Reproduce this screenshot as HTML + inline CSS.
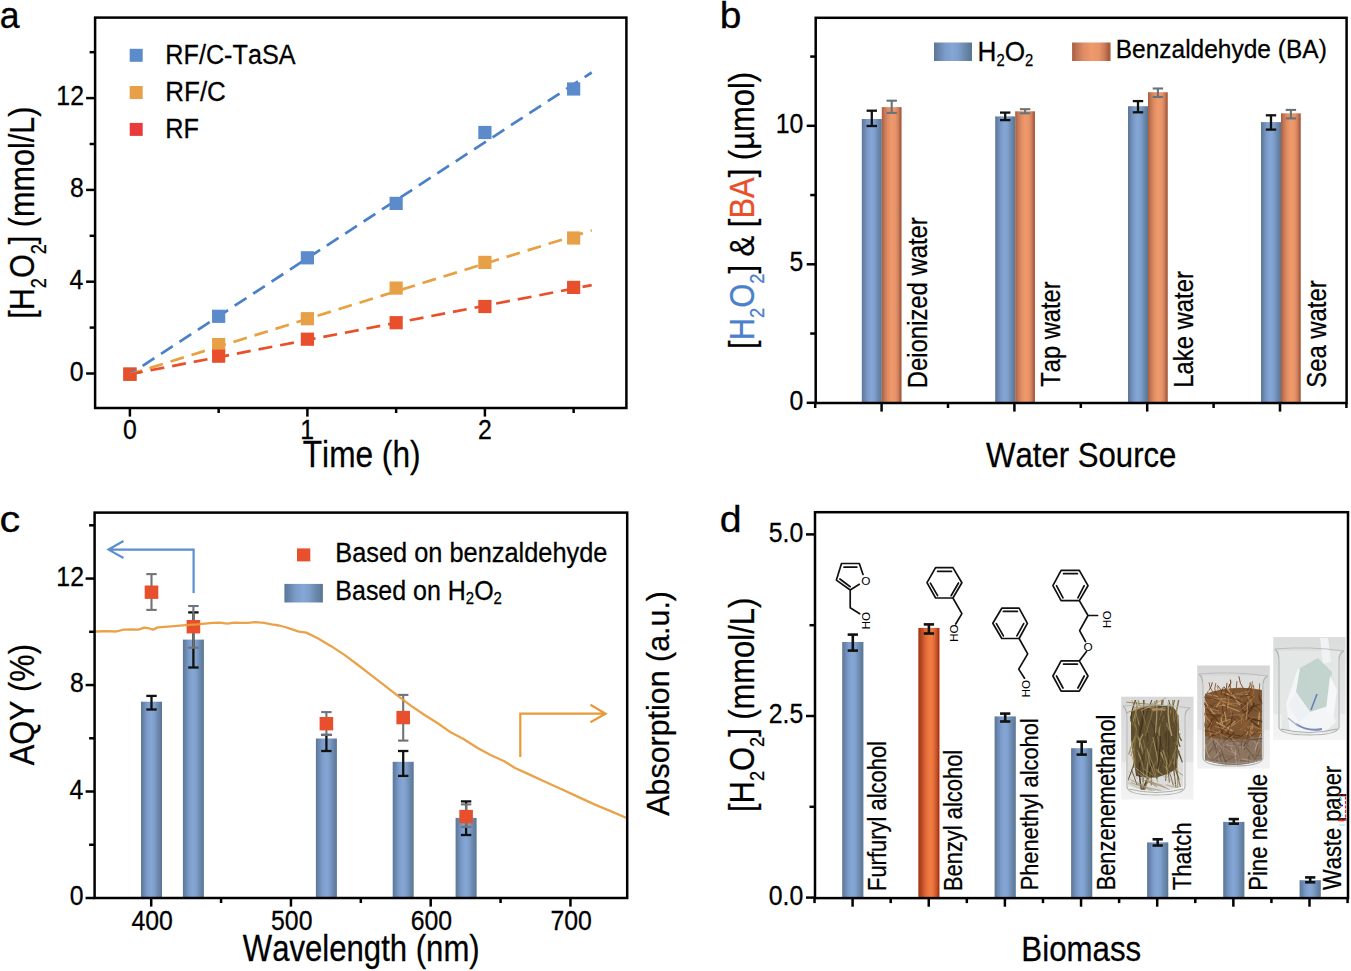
<!DOCTYPE html><html><head><meta charset="utf-8"><style>html,body{margin:0;padding:0;background:#fff;overflow:hidden}svg{display:block}text{font-kerning:none;font-family:"Liberation Sans",sans-serif}</style></head><body>
<svg width="1351" height="971" viewBox="0 0 1351 971" font-family="'Liberation Sans', sans-serif">
<rect width="1351" height="971" fill="#fff"/>
<defs>
<linearGradient id="gb" x1="0" x2="1" y1="0" y2="0">
<stop offset="0" stop-color="#5c7696"/><stop offset="0.15" stop-color="#6b88b0"/><stop offset="0.3" stop-color="#7c9ccb"/><stop offset="0.48" stop-color="#85a7d5"/>
<stop offset="0.63" stop-color="#7f9fcc"/><stop offset="0.78" stop-color="#6f8cb4"/><stop offset="0.9" stop-color="#62809f"/><stop offset="1" stop-color="#5a7594"/></linearGradient>
<linearGradient id="go" x1="0" x2="1" y1="0" y2="0">
<stop offset="0" stop-color="#a65e3e"/><stop offset="0.12" stop-color="#c07454"/><stop offset="0.3" stop-color="#e08c64"/><stop offset="0.5" stop-color="#ee9a6c"/>
<stop offset="0.7" stop-color="#e89468"/><stop offset="0.85" stop-color="#c87c5a"/><stop offset="0.95" stop-color="#a85a3a"/><stop offset="1" stop-color="#b06446"/></linearGradient>
<linearGradient id="gd" x1="0" x2="1" y1="0" y2="0">
<stop offset="0" stop-color="#b04820"/><stop offset="0.05" stop-color="#a83818"/><stop offset="0.2" stop-color="#c05028"/><stop offset="0.35" stop-color="#e06a38"/>
<stop offset="0.5" stop-color="#ee7a42"/><stop offset="0.62" stop-color="#f07c42"/><stop offset="0.75" stop-color="#e06a36"/><stop offset="0.88" stop-color="#c05028"/>
<stop offset="0.96" stop-color="#a83010"/><stop offset="1" stop-color="#b04020"/></linearGradient>
</defs>
<g stroke-width="2.7" stroke-dasharray="14 8" fill="none">
<line x1="129.90" y1="374.2" x2="591.7" y2="72.5" stroke="#4a80c8" stroke-dashoffset="6.8"/>
<line x1="129.90" y1="374.2" x2="591.7" y2="230.4" stroke="#e8a040" stroke-dashoffset="1.5"/>
<line x1="129.90" y1="374.2" x2="591.7" y2="285.1" stroke="#e8502a" stroke-dashoffset="1.0"/>
</g>
<rect x="123.30" y="367.60" width="13.20" height="13.20" fill="#5b8bcb"/>
<rect x="212.05" y="309.70" width="13.20" height="13.20" fill="#5b8bcb"/>
<rect x="300.80" y="251.20" width="13.20" height="13.20" fill="#5b8bcb"/>
<rect x="389.55" y="196.80" width="13.20" height="13.20" fill="#5b8bcb"/>
<rect x="478.30" y="125.90" width="13.20" height="13.20" fill="#5b8bcb"/>
<rect x="567.05" y="82.40" width="13.20" height="13.20" fill="#5b8bcb"/>
<rect x="123.30" y="367.60" width="13.20" height="13.20" fill="#e8a048"/>
<rect x="212.05" y="338.00" width="13.20" height="13.20" fill="#e8a048"/>
<rect x="300.80" y="312.10" width="13.20" height="13.20" fill="#e8a048"/>
<rect x="389.55" y="281.50" width="13.20" height="13.20" fill="#e8a048"/>
<rect x="478.30" y="255.80" width="13.20" height="13.20" fill="#e8a048"/>
<rect x="567.05" y="231.40" width="13.20" height="13.20" fill="#e8a048"/>
<rect x="123.30" y="367.60" width="13.20" height="13.20" fill="#e8502d"/>
<rect x="212.05" y="349.60" width="13.20" height="13.20" fill="#e8502d"/>
<rect x="300.80" y="332.60" width="13.20" height="13.20" fill="#e8502d"/>
<rect x="389.55" y="316.10" width="13.20" height="13.20" fill="#e8502d"/>
<rect x="478.30" y="299.90" width="13.20" height="13.20" fill="#e8502d"/>
<rect x="567.05" y="280.80" width="13.20" height="13.20" fill="#e8502d"/>
<line x1="129.9" y1="374.2" x2="135.93" y2="370.26" stroke="#4a80c8" stroke-width="2.5"/>
<line x1="129.9" y1="374.2" x2="141.36" y2="370.63" stroke="#e8a040" stroke-width="2.5"/>
<line x1="129.9" y1="374.2" x2="142.17" y2="371.83" stroke="#e8502a" stroke-width="2.5"/>
<rect x="95.1" y="17.6" width="531.3" height="390.4" fill="none" stroke="#000" stroke-width="2.5"/>
<line x1="86.10" y1="373.50" x2="95.10" y2="373.50" stroke="#000" stroke-width="2.5" />
<text transform="translate(69.86,380.50) scale(0.9200,1)" fill="#000" stroke="#000" stroke-width="0.28"><tspan font-size="27.00" y="0.00">0</tspan></text>
<line x1="89.60" y1="327.60" x2="95.10" y2="327.60" stroke="#000" stroke-width="2.5" />
<line x1="86.10" y1="281.70" x2="95.10" y2="281.70" stroke="#000" stroke-width="2.5" />
<text transform="translate(69.61,288.70) scale(0.9200,1)" fill="#000" stroke="#000" stroke-width="0.28"><tspan font-size="27.00" y="0.00">4</tspan></text>
<line x1="89.60" y1="235.80" x2="95.10" y2="235.80" stroke="#000" stroke-width="2.5" />
<line x1="86.10" y1="189.90" x2="95.10" y2="189.90" stroke="#000" stroke-width="2.5" />
<text transform="translate(69.96,196.90) scale(0.9200,1)" fill="#000" stroke="#000" stroke-width="0.28"><tspan font-size="27.00" y="0.00">8</tspan></text>
<line x1="89.60" y1="144.00" x2="95.10" y2="144.00" stroke="#000" stroke-width="2.5" />
<line x1="86.10" y1="98.10" x2="95.10" y2="98.10" stroke="#000" stroke-width="2.5" />
<text transform="translate(56.32,105.10) scale(0.9200,1)" fill="#000" stroke="#000" stroke-width="0.28"><tspan font-size="27.00" y="0.00">12</tspan></text>
<line x1="89.60" y1="52.20" x2="95.10" y2="52.20" stroke="#000" stroke-width="2.5" />
<line x1="129.90" y1="408.00" x2="129.90" y2="416.60" stroke="#000" stroke-width="2.5" />
<text transform="translate(122.99,439.10) scale(0.9200,1)" fill="#000" stroke="#000" stroke-width="0.28"><tspan font-size="27.00" y="0.00">0</tspan></text>
<line x1="218.65" y1="408.00" x2="218.65" y2="413.00" stroke="#000" stroke-width="2.5" />
<line x1="307.40" y1="408.00" x2="307.40" y2="416.60" stroke="#000" stroke-width="2.5" />
<text transform="translate(300.15,439.10) scale(0.9200,1)" fill="#000" stroke="#000" stroke-width="0.28"><tspan font-size="27.00" y="0.00">1</tspan></text>
<line x1="396.15" y1="408.00" x2="396.15" y2="413.00" stroke="#000" stroke-width="2.5" />
<line x1="484.90" y1="408.00" x2="484.90" y2="416.60" stroke="#000" stroke-width="2.5" />
<text transform="translate(477.99,439.10) scale(0.9200,1)" fill="#000" stroke="#000" stroke-width="0.28"><tspan font-size="27.00" y="0.00">2</tspan></text>
<line x1="573.65" y1="408.00" x2="573.65" y2="413.00" stroke="#000" stroke-width="2.5" />
<text transform="translate(302.79,467.10) scale(0.8741,1)" fill="#000" stroke="#000" stroke-width="0.28"><tspan font-size="36.20" y="0.00">Time (h)</tspan></text>
<text transform="translate(34.00,318.78) rotate(-90) scale(0.8552,1)" fill="#000" stroke="#000" stroke-width="0.28"><tspan font-size="35.80" y="0.00">[H</tspan><tspan font-size="21.20" y="12.20">2</tspan><tspan font-size="35.80" y="0.00">O</tspan><tspan font-size="21.20" y="12.20">2</tspan><tspan font-size="35.80" y="0.00">] (mmol/L)</tspan></text>
<rect x="129.70" y="48.80" width="13.00" height="13.00" fill="#5b8bcb"/>
<text transform="translate(165.33,63.60) scale(0.9334,1)" fill="#000" stroke="#000" stroke-width="0.28"><tspan font-size="27.00" y="0.00">RF/C-TaSA</tspan></text>
<rect x="129.70" y="86.00" width="13.00" height="13.00" fill="#e8a048"/>
<text transform="translate(165.27,101.00) scale(0.9624,1)" fill="#000" stroke="#000" stroke-width="0.28"><tspan font-size="27.00" y="0.00">RF/C</tspan></text>
<rect x="129.70" y="122.90" width="13.00" height="13.00" fill="#e83c3c"/>
<text transform="translate(165.33,138.30) scale(0.9359,1)" fill="#000" stroke="#000" stroke-width="0.28"><tspan font-size="27.00" y="0.00">RF</tspan></text>
<text transform="translate(-0.31,28.44) scale(0.9567,1)" fill="#000" stroke="#000" stroke-width="0.28"><tspan font-size="37.24" y="0.00">a</tspan></text>
<rect x="861.80" y="119.00" width="20.00" height="284.00" fill="url(#gb)"/>
<rect x="881.80" y="107.10" width="19.80" height="295.90" fill="url(#go)"/>
<line x1="871.80" y1="110.70" x2="871.80" y2="126.00" stroke="#111" stroke-width="2.3" />
<line x1="866.60" y1="110.70" x2="877.00" y2="110.70" stroke="#111" stroke-width="2.3" />
<line x1="866.60" y1="126.00" x2="877.00" y2="126.00" stroke="#111" stroke-width="2.3" />
<line x1="891.70" y1="100.70" x2="891.70" y2="112.90" stroke="#6a7278" stroke-width="2.1" />
<line x1="886.50" y1="100.70" x2="896.90" y2="100.70" stroke="#6a7278" stroke-width="2.1" />
<line x1="886.50" y1="112.90" x2="896.90" y2="112.90" stroke="#6a7278" stroke-width="2.1" />
<rect x="995.20" y="116.40" width="20.00" height="286.60" fill="url(#gb)"/>
<rect x="1015.20" y="111.30" width="19.80" height="291.70" fill="url(#go)"/>
<line x1="1005.20" y1="112.60" x2="1005.20" y2="120.10" stroke="#111" stroke-width="2.3" />
<line x1="1000.00" y1="112.60" x2="1010.40" y2="112.60" stroke="#111" stroke-width="2.3" />
<line x1="1000.00" y1="120.10" x2="1010.40" y2="120.10" stroke="#111" stroke-width="2.3" />
<line x1="1025.10" y1="109.20" x2="1025.10" y2="113.30" stroke="#6a7278" stroke-width="2.1" />
<line x1="1019.90" y1="109.20" x2="1030.30" y2="109.20" stroke="#6a7278" stroke-width="2.1" />
<line x1="1019.90" y1="113.30" x2="1030.30" y2="113.30" stroke="#6a7278" stroke-width="2.1" />
<rect x="1128.00" y="106.20" width="20.00" height="296.80" fill="url(#gb)"/>
<rect x="1148.00" y="92.20" width="19.80" height="310.80" fill="url(#go)"/>
<line x1="1138.00" y1="101.10" x2="1138.00" y2="112.30" stroke="#111" stroke-width="2.3" />
<line x1="1132.80" y1="101.10" x2="1143.20" y2="101.10" stroke="#111" stroke-width="2.3" />
<line x1="1132.80" y1="112.30" x2="1143.20" y2="112.30" stroke="#111" stroke-width="2.3" />
<line x1="1157.90" y1="88.50" x2="1157.90" y2="97.00" stroke="#6a7278" stroke-width="2.1" />
<line x1="1152.70" y1="88.50" x2="1163.10" y2="88.50" stroke="#6a7278" stroke-width="2.1" />
<line x1="1152.70" y1="97.00" x2="1163.10" y2="97.00" stroke="#6a7278" stroke-width="2.1" />
<rect x="1261.00" y="122.10" width="20.00" height="280.90" fill="url(#gb)"/>
<rect x="1281.00" y="113.30" width="19.80" height="289.70" fill="url(#go)"/>
<line x1="1271.00" y1="115.30" x2="1271.00" y2="129.60" stroke="#111" stroke-width="2.3" />
<line x1="1265.80" y1="115.30" x2="1276.20" y2="115.30" stroke="#111" stroke-width="2.3" />
<line x1="1265.80" y1="129.60" x2="1276.20" y2="129.60" stroke="#111" stroke-width="2.3" />
<line x1="1290.90" y1="109.90" x2="1290.90" y2="118.40" stroke="#6a7278" stroke-width="2.1" />
<line x1="1285.70" y1="109.90" x2="1296.10" y2="109.90" stroke="#6a7278" stroke-width="2.1" />
<line x1="1285.70" y1="118.40" x2="1296.10" y2="118.40" stroke="#6a7278" stroke-width="2.1" />
<rect x="815.7" y="17.8" width="530.8999999999999" height="385.2" fill="none" stroke="#000" stroke-width="2.5"/>
<line x1="806.70" y1="402.80" x2="815.70" y2="402.80" stroke="#000" stroke-width="2.5" />
<text transform="translate(789.46,409.60) scale(0.9200,1)" fill="#000" stroke="#000" stroke-width="0.28"><tspan font-size="27.00" y="0.00">0</tspan></text>
<line x1="810.20" y1="333.55" x2="815.70" y2="333.55" stroke="#000" stroke-width="2.5" />
<line x1="806.70" y1="264.30" x2="815.70" y2="264.30" stroke="#000" stroke-width="2.5" />
<text transform="translate(789.53,271.10) scale(0.9200,1)" fill="#000" stroke="#000" stroke-width="0.28"><tspan font-size="27.00" y="0.00">5</tspan></text>
<line x1="810.20" y1="195.05" x2="815.70" y2="195.05" stroke="#000" stroke-width="2.5" />
<line x1="806.70" y1="125.80" x2="815.70" y2="125.80" stroke="#000" stroke-width="2.5" />
<text transform="translate(775.64,132.60) scale(0.9200,1)" fill="#000" stroke="#000" stroke-width="0.28"><tspan font-size="27.00" y="0.00">10</tspan></text>
<line x1="810.20" y1="56.55" x2="815.70" y2="56.55" stroke="#000" stroke-width="2.5" />
<line x1="815.20" y1="403.00" x2="815.20" y2="408.00" stroke="#000" stroke-width="2.5" />
<line x1="881.60" y1="403.00" x2="881.60" y2="411.60" stroke="#000" stroke-width="2.5" />
<line x1="948.00" y1="403.00" x2="948.00" y2="408.00" stroke="#000" stroke-width="2.5" />
<line x1="1014.40" y1="403.00" x2="1014.40" y2="411.60" stroke="#000" stroke-width="2.5" />
<line x1="1080.80" y1="403.00" x2="1080.80" y2="408.00" stroke="#000" stroke-width="2.5" />
<line x1="1147.20" y1="403.00" x2="1147.20" y2="411.60" stroke="#000" stroke-width="2.5" />
<line x1="1213.60" y1="403.00" x2="1213.60" y2="408.00" stroke="#000" stroke-width="2.5" />
<line x1="1280.00" y1="403.00" x2="1280.00" y2="411.60" stroke="#000" stroke-width="2.5" />
<line x1="1346.40" y1="403.00" x2="1346.40" y2="408.00" stroke="#000" stroke-width="2.5" />
<text transform="translate(927.40,388.16) rotate(-90) scale(0.8429,1)" fill="#000" stroke="#000" stroke-width="0.28"><tspan font-size="28.30" y="0.00">Deionized water</tspan></text>
<text transform="translate(1059.80,386.73) rotate(-90) scale(0.8614,1)" fill="#000" stroke="#000" stroke-width="0.28"><tspan font-size="27.50" y="0.00">Tap water</tspan></text>
<text transform="translate(1193.40,387.65) rotate(-90) scale(0.8509,1)" fill="#000" stroke="#000" stroke-width="0.28"><tspan font-size="28.00" y="0.00">Lake water</tspan></text>
<text transform="translate(1325.60,387.78) rotate(-90) scale(0.8526,1)" fill="#000" stroke="#000" stroke-width="0.28"><tspan font-size="28.00" y="0.00">Sea water</tspan></text>
<text transform="translate(986.06,467.00) scale(0.8701,1)" fill="#000" stroke="#000" stroke-width="0.28"><tspan font-size="35.80" y="0.00">Water Source</tspan></text>
<rect x="934.00" y="42.50" width="38.00" height="18.50" fill="url(#gb)"/>
<rect x="1072.10" y="42.50" width="38.50" height="18.50" fill="url(#go)"/>
<text transform="translate(977.55,61.40) scale(0.9479,1)" fill="#000" stroke="#000" stroke-width="0.28"><tspan font-size="27.60" y="0.00">H</tspan><tspan font-size="15.60" y="4.20">2</tspan><tspan font-size="27.60" y="0.00">O</tspan><tspan font-size="15.60" y="4.20">2</tspan></text>
<text transform="translate(1115.69,58.40) scale(0.9465,1)" fill="#000" stroke="#000" stroke-width="0.28"><tspan font-size="25.90" y="0.00">Benzaldehyde (BA)</tspan></text>
<text transform="translate(753.80,348.91) rotate(-90) scale(0.8692,1)"><tspan font-size="35.60" y="0.00" fill="#000" stroke="#000" stroke-width="0.28">[</tspan><tspan font-size="35.60" y="0.00" fill="#4a80cc" stroke="#4a80cc" stroke-width="0.28">H</tspan><tspan font-size="21.00" y="10.20" fill="#4a80cc" stroke="#4a80cc" stroke-width="0.28">2</tspan><tspan font-size="35.60" y="0.00" fill="#4a80cc" stroke="#4a80cc" stroke-width="0.28">O</tspan><tspan font-size="21.00" y="10.20" fill="#4a80cc" stroke="#4a80cc" stroke-width="0.28">2</tspan><tspan font-size="35.60" y="0.00" fill="#000" stroke="#000" stroke-width="0.28">] &amp; [</tspan><tspan font-size="35.60" y="0.00" fill="#e8502a" stroke="#e8502a" stroke-width="0.28">BA</tspan><tspan font-size="35.60" y="0.00" fill="#000" stroke="#000" stroke-width="0.28">] (µmol)</tspan></text>
<text transform="translate(719.69,28.44) scale(1.0506,1)" fill="#000" stroke="#000" stroke-width="0.28"><tspan font-size="37.04" y="0.00">b</tspan></text>
<rect x="141.00" y="701.70" width="21.00" height="196.30" fill="url(#gb)"/>
<rect x="182.90" y="639.60" width="21.00" height="258.40" fill="url(#gb)"/>
<rect x="315.90" y="738.50" width="21.00" height="159.50" fill="url(#gb)"/>
<rect x="392.70" y="761.80" width="21.00" height="136.20" fill="url(#gb)"/>
<rect x="455.60" y="817.90" width="21.00" height="80.10" fill="url(#gb)"/>
<line x1="151.50" y1="695.90" x2="151.50" y2="709.50" stroke="#111" stroke-width="2.3" />
<line x1="146.30" y1="695.90" x2="156.70" y2="695.90" stroke="#111" stroke-width="2.3" />
<line x1="146.30" y1="709.50" x2="156.70" y2="709.50" stroke="#111" stroke-width="2.3" />
<line x1="193.40" y1="612.40" x2="193.40" y2="667.50" stroke="#111" stroke-width="2.3" />
<line x1="188.20" y1="612.40" x2="198.60" y2="612.40" stroke="#111" stroke-width="2.3" />
<line x1="188.20" y1="667.50" x2="198.60" y2="667.50" stroke="#111" stroke-width="2.3" />
<line x1="326.40" y1="734.90" x2="326.40" y2="751.00" stroke="#111" stroke-width="2.3" />
<line x1="321.20" y1="734.90" x2="331.60" y2="734.90" stroke="#111" stroke-width="2.3" />
<line x1="321.20" y1="751.00" x2="331.60" y2="751.00" stroke="#111" stroke-width="2.3" />
<line x1="403.20" y1="751.00" x2="403.20" y2="775.90" stroke="#111" stroke-width="2.3" />
<line x1="398.00" y1="751.00" x2="408.40" y2="751.00" stroke="#111" stroke-width="2.3" />
<line x1="398.00" y1="775.90" x2="408.40" y2="775.90" stroke="#111" stroke-width="2.3" />
<line x1="466.10" y1="801.40" x2="466.10" y2="835.00" stroke="#111" stroke-width="2.3" />
<line x1="460.90" y1="801.40" x2="471.30" y2="801.40" stroke="#111" stroke-width="2.3" />
<line x1="460.90" y1="835.00" x2="471.30" y2="835.00" stroke="#111" stroke-width="2.3" />
<line x1="151.50" y1="574.10" x2="151.50" y2="609.90" stroke="#6e7478" stroke-width="2.1" />
<line x1="146.30" y1="574.10" x2="156.70" y2="574.10" stroke="#6e7478" stroke-width="2.1" />
<line x1="146.30" y1="609.90" x2="156.70" y2="609.90" stroke="#6e7478" stroke-width="2.1" />
<line x1="193.40" y1="606.00" x2="193.40" y2="647.70" stroke="#6e7478" stroke-width="2.1" />
<line x1="188.20" y1="606.00" x2="198.60" y2="606.00" stroke="#6e7478" stroke-width="2.1" />
<line x1="188.20" y1="647.70" x2="198.60" y2="647.70" stroke="#6e7478" stroke-width="2.1" />
<line x1="326.40" y1="712.10" x2="326.40" y2="734.90" stroke="#6e7478" stroke-width="2.1" />
<line x1="321.20" y1="712.10" x2="331.60" y2="712.10" stroke="#6e7478" stroke-width="2.1" />
<line x1="321.20" y1="734.90" x2="331.60" y2="734.90" stroke="#6e7478" stroke-width="2.1" />
<line x1="403.20" y1="694.90" x2="403.20" y2="740.60" stroke="#6e7478" stroke-width="2.1" />
<line x1="398.00" y1="694.90" x2="408.40" y2="694.90" stroke="#6e7478" stroke-width="2.1" />
<line x1="398.00" y1="740.60" x2="408.40" y2="740.60" stroke="#6e7478" stroke-width="2.1" />
<line x1="466.10" y1="804.40" x2="466.10" y2="826.90" stroke="#6e7478" stroke-width="2.1" />
<line x1="460.90" y1="804.40" x2="471.30" y2="804.40" stroke="#6e7478" stroke-width="2.1" />
<line x1="460.90" y1="826.90" x2="471.30" y2="826.90" stroke="#6e7478" stroke-width="2.1" />
<rect x="144.70" y="585.50" width="13.60" height="13.40" fill="#e8502d"/>
<rect x="186.60" y="620.00" width="13.60" height="13.40" fill="#e8502d"/>
<rect x="319.60" y="717.00" width="13.60" height="13.40" fill="#e8502d"/>
<rect x="396.40" y="710.90" width="13.60" height="13.40" fill="#e8502d"/>
<rect x="459.30" y="809.90" width="13.60" height="13.40" fill="#e8502d"/>
<path d="M94.6,631.5 L97.0,631.5 L105.8,631.1 L116.2,631.5 L123.6,629.6 L132.5,629.3 L138.4,629.6 L144.3,627.7 L149.0,628.4 L153.2,629.6 L157.7,627.4 L168.0,626.6 L176.9,625.9 L185.8,625.2 L197.6,624.4 L205.0,623.7 L212.4,622.9 L219.8,622.6 L227.2,623.7 L234.6,622.6 L242.0,622.9 L248.0,622.9 L255.4,622.2 L264.2,622.9 L271.6,624.4 L279.1,625.5 L285.0,627.0 L290.0,628.6 L298.8,631.6 L306.4,632.6 L317.7,638.2 L331.5,646.4 L344.1,654.6 L356.7,664.0 L370.5,674.7 L384.4,685.4 L398.2,696.1 L410.8,705.6 L424.6,715.0 L438.5,723.8 L451.1,732.6 L463.0,738.7 L477.6,748.0 L491.0,755.3 L504.3,761.3 L515.0,768.0 L529.6,774.6 L545.6,782.0 L561.6,789.3 L577.6,796.6 L594.9,804.6 L609.5,810.6 L624.9,817.3 L626.2,817.8" fill="none" stroke="#e89a3a" stroke-width="2.3" stroke-linejoin="round" opacity="0.92"/>
<path d="M193.6,593 L193.6,549.6 L108.5,549.6 M123.5,541 L108.5,549.6 L123.5,558" fill="none" stroke="#5b8fd0" stroke-width="2.2"/>
<path d="M520.3,757 L520.3,713.7 L605.6,713.7 M590.4,704.7 L605.6,713.7 L590.4,722.2" fill="none" stroke="#e89a3a" stroke-width="2.2"/>
<rect x="94.6" y="512.6" width="532.6" height="385.4" fill="none" stroke="#000" stroke-width="2.5"/>
<line x1="85.60" y1="898.00" x2="94.60" y2="898.00" stroke="#000" stroke-width="2.5" />
<text transform="translate(69.86,905.00) scale(0.9200,1)" fill="#000" stroke="#000" stroke-width="0.28"><tspan font-size="27.00" y="0.00">0</tspan></text>
<line x1="89.10" y1="844.76" x2="94.60" y2="844.76" stroke="#000" stroke-width="2.5" />
<line x1="85.60" y1="791.52" x2="94.60" y2="791.52" stroke="#000" stroke-width="2.5" />
<text transform="translate(69.61,798.52) scale(0.9200,1)" fill="#000" stroke="#000" stroke-width="0.28"><tspan font-size="27.00" y="0.00">4</tspan></text>
<line x1="89.10" y1="738.28" x2="94.60" y2="738.28" stroke="#000" stroke-width="2.5" />
<line x1="85.60" y1="685.04" x2="94.60" y2="685.04" stroke="#000" stroke-width="2.5" />
<text transform="translate(69.96,692.04) scale(0.9200,1)" fill="#000" stroke="#000" stroke-width="0.28"><tspan font-size="27.00" y="0.00">8</tspan></text>
<line x1="89.10" y1="631.80" x2="94.60" y2="631.80" stroke="#000" stroke-width="2.5" />
<line x1="85.60" y1="578.56" x2="94.60" y2="578.56" stroke="#000" stroke-width="2.5" />
<text transform="translate(56.32,585.56) scale(0.9200,1)" fill="#000" stroke="#000" stroke-width="0.28"><tspan font-size="27.00" y="0.00">12</tspan></text>
<line x1="89.10" y1="525.32" x2="94.60" y2="525.32" stroke="#000" stroke-width="2.5" />
<line x1="151.20" y1="898.00" x2="151.20" y2="906.60" stroke="#000" stroke-width="2.5" />
<text transform="translate(131.48,930.20) scale(0.9200,1)" fill="#000" stroke="#000" stroke-width="0.28"><tspan font-size="27.00" y="0.00">400</tspan></text>
<line x1="221.07" y1="898.00" x2="221.07" y2="903.00" stroke="#000" stroke-width="2.5" />
<line x1="290.95" y1="898.00" x2="290.95" y2="906.60" stroke="#000" stroke-width="2.5" />
<text transform="translate(271.02,930.20) scale(0.9200,1)" fill="#000" stroke="#000" stroke-width="0.28"><tspan font-size="27.00" y="0.00">500</tspan></text>
<line x1="360.82" y1="898.00" x2="360.82" y2="903.00" stroke="#000" stroke-width="2.5" />
<line x1="430.70" y1="898.00" x2="430.70" y2="906.60" stroke="#000" stroke-width="2.5" />
<text transform="translate(410.63,930.20) scale(0.9200,1)" fill="#000" stroke="#000" stroke-width="0.28"><tspan font-size="27.00" y="0.00">600</tspan></text>
<line x1="500.57" y1="898.00" x2="500.57" y2="903.00" stroke="#000" stroke-width="2.5" />
<line x1="570.45" y1="898.00" x2="570.45" y2="906.60" stroke="#000" stroke-width="2.5" />
<text transform="translate(550.38,930.20) scale(0.9200,1)" fill="#000" stroke="#000" stroke-width="0.28"><tspan font-size="27.00" y="0.00">700</tspan></text>
<text transform="translate(242.76,961.10) scale(0.8598,1)" fill="#000" stroke="#000" stroke-width="0.28"><tspan font-size="36.20" y="0.00">Wavelength (nm)</tspan></text>
<text transform="translate(34.00,765.36) rotate(-90) scale(0.8546,1)" fill="#000" stroke="#000" stroke-width="0.28"><tspan font-size="36.00" y="0.00">AQY (%)</tspan></text>
<text transform="translate(669.10,815.66) rotate(-90) scale(0.9963,1)" fill="#000" stroke="#000" stroke-width="0.28"><tspan font-size="30.50" y="0.00">Absorption (a.u.)</tspan></text>
<rect x="297.00" y="548.40" width="13.30" height="13.00" fill="#e8502d"/>
<rect x="284.40" y="583.90" width="38.50" height="18.60" fill="url(#gb)"/>
<text transform="translate(335.32,561.70) scale(0.9158,1)" fill="#000" stroke="#000" stroke-width="0.28"><tspan font-size="27.70" y="0.00">Based on benzaldehyde</tspan></text>
<text transform="translate(335.35,599.80) scale(0.9219,1)" fill="#000" stroke="#000" stroke-width="0.28"><tspan font-size="27.10" y="0.00">Based on H</tspan><tspan font-size="16.20" y="4.50">2</tspan><tspan font-size="27.10" y="0.00">O</tspan><tspan font-size="16.20" y="4.50">2</tspan></text>
<text transform="translate(-0.56,532.04) scale(1.1204,1)" fill="#000" stroke="#000" stroke-width="0.28"><tspan font-size="37.05" y="0.00">c</tspan></text>
<rect x="842.20" y="642.00" width="21.20" height="256.10" fill="url(#gb)"/>
<rect x="918.30" y="627.90" width="21.20" height="270.20" fill="url(#gd)"/>
<rect x="994.60" y="716.40" width="21.20" height="181.70" fill="url(#gb)"/>
<rect x="1071.10" y="748.20" width="21.20" height="149.90" fill="url(#gb)"/>
<rect x="1147.10" y="842.40" width="21.20" height="55.70" fill="url(#gb)"/>
<rect x="1223.20" y="821.90" width="21.20" height="76.20" fill="url(#gb)"/>
<rect x="1299.60" y="880.20" width="21.20" height="17.90" fill="url(#gb)"/>
<line x1="852.80" y1="634.60" x2="852.80" y2="650.60" stroke="#111" stroke-width="2.6" />
<line x1="847.65" y1="634.60" x2="857.95" y2="634.60" stroke="#111" stroke-width="2.6" />
<line x1="847.65" y1="650.60" x2="857.95" y2="650.60" stroke="#111" stroke-width="2.6" />
<line x1="928.90" y1="624.40" x2="928.90" y2="633.50" stroke="#111" stroke-width="2.6" />
<line x1="923.75" y1="624.40" x2="934.05" y2="624.40" stroke="#111" stroke-width="2.6" />
<line x1="923.75" y1="633.50" x2="934.05" y2="633.50" stroke="#111" stroke-width="2.6" />
<line x1="1005.20" y1="713.60" x2="1005.20" y2="721.50" stroke="#111" stroke-width="2.6" />
<line x1="1000.05" y1="713.60" x2="1010.35" y2="713.60" stroke="#111" stroke-width="2.6" />
<line x1="1000.05" y1="721.50" x2="1010.35" y2="721.50" stroke="#111" stroke-width="2.6" />
<line x1="1081.70" y1="741.70" x2="1081.70" y2="754.60" stroke="#111" stroke-width="2.6" />
<line x1="1076.55" y1="741.70" x2="1086.85" y2="741.70" stroke="#111" stroke-width="2.6" />
<line x1="1076.55" y1="754.60" x2="1086.85" y2="754.60" stroke="#111" stroke-width="2.6" />
<line x1="1157.70" y1="839.30" x2="1157.70" y2="845.50" stroke="#111" stroke-width="2.6" />
<line x1="1152.55" y1="839.30" x2="1162.85" y2="839.30" stroke="#111" stroke-width="2.6" />
<line x1="1152.55" y1="845.50" x2="1162.85" y2="845.50" stroke="#111" stroke-width="2.6" />
<line x1="1233.80" y1="819.10" x2="1233.80" y2="823.70" stroke="#111" stroke-width="2.6" />
<line x1="1228.65" y1="819.10" x2="1238.95" y2="819.10" stroke="#111" stroke-width="2.6" />
<line x1="1228.65" y1="823.70" x2="1238.95" y2="823.70" stroke="#111" stroke-width="2.6" />
<line x1="1310.20" y1="877.40" x2="1310.20" y2="882.30" stroke="#111" stroke-width="2.6" />
<line x1="1305.05" y1="877.40" x2="1315.35" y2="877.40" stroke="#111" stroke-width="2.6" />
<line x1="1305.05" y1="882.30" x2="1315.35" y2="882.30" stroke="#111" stroke-width="2.6" />
<rect x="815.0" y="512.2" width="533.0" height="385.9" fill="none" stroke="#000" stroke-width="2.5"/>
<line x1="806.00" y1="897.60" x2="815.00" y2="897.60" stroke="#000" stroke-width="2.5" />
<text transform="translate(768.74,904.80) scale(0.9200,1)" fill="#000" stroke="#000" stroke-width="0.28"><tspan font-size="27.00" y="0.00">0.0</tspan></text>
<line x1="809.50" y1="806.80" x2="815.00" y2="806.80" stroke="#000" stroke-width="2.5" />
<line x1="806.00" y1="716.00" x2="815.00" y2="716.00" stroke="#000" stroke-width="2.5" />
<text transform="translate(768.81,723.20) scale(0.9200,1)" fill="#000" stroke="#000" stroke-width="0.28"><tspan font-size="27.00" y="0.00">2.5</tspan></text>
<line x1="809.50" y1="625.20" x2="815.00" y2="625.20" stroke="#000" stroke-width="2.5" />
<line x1="806.00" y1="534.40" x2="815.00" y2="534.40" stroke="#000" stroke-width="2.5" />
<text transform="translate(768.74,541.60) scale(0.9200,1)" fill="#000" stroke="#000" stroke-width="0.28"><tspan font-size="27.00" y="0.00">5.0</tspan></text>
<line x1="814.52" y1="898.10" x2="814.52" y2="903.10" stroke="#000" stroke-width="2.5" />
<line x1="852.60" y1="898.10" x2="852.60" y2="906.70" stroke="#000" stroke-width="2.5" />
<line x1="890.68" y1="898.10" x2="890.68" y2="903.10" stroke="#000" stroke-width="2.5" />
<line x1="928.75" y1="898.10" x2="928.75" y2="906.70" stroke="#000" stroke-width="2.5" />
<line x1="966.83" y1="898.10" x2="966.83" y2="903.10" stroke="#000" stroke-width="2.5" />
<line x1="1004.90" y1="898.10" x2="1004.90" y2="906.70" stroke="#000" stroke-width="2.5" />
<line x1="1042.97" y1="898.10" x2="1042.97" y2="903.10" stroke="#000" stroke-width="2.5" />
<line x1="1081.05" y1="898.10" x2="1081.05" y2="906.70" stroke="#000" stroke-width="2.5" />
<line x1="1119.12" y1="898.10" x2="1119.12" y2="903.10" stroke="#000" stroke-width="2.5" />
<line x1="1157.20" y1="898.10" x2="1157.20" y2="906.70" stroke="#000" stroke-width="2.5" />
<line x1="1195.28" y1="898.10" x2="1195.28" y2="903.10" stroke="#000" stroke-width="2.5" />
<line x1="1233.35" y1="898.10" x2="1233.35" y2="906.70" stroke="#000" stroke-width="2.5" />
<line x1="1271.43" y1="898.10" x2="1271.43" y2="903.10" stroke="#000" stroke-width="2.5" />
<line x1="1309.50" y1="898.10" x2="1309.50" y2="906.70" stroke="#000" stroke-width="2.5" />
<line x1="1347.58" y1="898.10" x2="1347.58" y2="903.10" stroke="#000" stroke-width="2.5" />
<text transform="translate(885.80,891.00) rotate(-90) scale(0.8677,1)" fill="#000" stroke="#000" stroke-width="0.28"><tspan font-size="25.30" y="0.00">Furfuryl alcohol</tspan></text>
<text transform="translate(961.70,891.10) rotate(-90) scale(0.8564,1)" fill="#000" stroke="#000" stroke-width="0.28"><tspan font-size="25.60" y="0.00">Benzyl alcohol</tspan></text>
<text transform="translate(1038.40,890.29) rotate(-90) scale(0.8782,1)" fill="#000" stroke="#000" stroke-width="0.28"><tspan font-size="24.80" y="0.00">Phenethyl alcohol</tspan></text>
<text transform="translate(1114.70,890.29) rotate(-90) scale(0.8521,1)" fill="#000" stroke="#000" stroke-width="0.28"><tspan font-size="25.60" y="0.00">Benzenemethanol</tspan></text>
<text transform="translate(1190.50,890.30) rotate(-90) scale(0.8561,1)" fill="#000" stroke="#000" stroke-width="0.28"><tspan font-size="26.00" y="0.00">Thatch</tspan></text>
<text transform="translate(1266.70,890.82) rotate(-90) scale(0.8686,1)" fill="#000" stroke="#000" stroke-width="0.28"><tspan font-size="25.50" y="0.00">Pine needle</tspan></text>
<text transform="translate(1340.50,889.90) rotate(-90) scale(0.8449,1)" fill="#000" stroke="#000" stroke-width="0.28"><tspan font-size="25.90" y="0.00">Waste paper</tspan></text>
<text transform="translate(1021.34,961.40) scale(0.8710,1)" fill="#000" stroke="#000" stroke-width="0.28"><tspan font-size="35.90" y="0.00">Biomass</tspan></text>
<text transform="translate(754.00,812.00) rotate(-90) scale(0.8638,1)" fill="#000" stroke="#000" stroke-width="0.28"><tspan font-size="35.80" y="0.00">[H</tspan><tspan font-size="21.00" y="9.90">2</tspan><tspan font-size="35.80" y="0.00">O</tspan><tspan font-size="21.00" y="9.90">2</tspan><tspan font-size="35.80" y="0.00">] (mmol/L)</tspan></text>
<text transform="translate(719.65,531.94) scale(1.0549,1)" fill="#000" stroke="#000" stroke-width="0.28"><tspan font-size="37.31" y="0.00">d</tspan></text>
<path d="M863,574.4 L859.3,563.5 L841.5,563.5 L836.4,580.1 L850.2,590 L859.3,584.3 M844,567.2 L856.8,567.2 M839.9,579 L850.2,586.7 M850.2,590 L850.2,607.7 L859.7,613.7" stroke="#111" stroke-width="1.7" fill="none" stroke-linecap="round" stroke-linejoin="round"/>
<text x="865.9" y="584.8" font-size="11.8" text-anchor="middle" font-family="'Liberation Sans', sans-serif">O</text>
<text transform="translate(862.3,612.1) rotate(90)" font-size="11.6" font-family="'Liberation Sans', sans-serif">OH</text>
<path d="M935.6,567.6 L952.9,567.6 L961.9,582.7 L952.9,598 L935.6,598 L927,582.7 Z M937.6,571.3 L951.5,571.3 M930.4,583.2 L937.6,595.7 M958.5,583 L951.1,595.7 M952.9,598 L961.9,613.6 L955.7,624" stroke="#111" stroke-width="1.7" fill="none" stroke-linecap="round" stroke-linejoin="round"/>
<text transform="translate(950.2,624.4) rotate(90)" font-size="11.6" font-family="'Liberation Sans', sans-serif">OH</text>
<path d="M1001.8,608.2 L1019.1,608.2 L1027.4,623.3 L1019.1,638.5 L1001.8,638.5 L992.8,623.3 Z M1003.4,611.4 L1017.4,611.4 M996.4,623.6 L1003.4,635.9 M1023.7,623.6 L1016.9,635.9 M1019.1,638.5 L1027.7,653.9 L1018.7,669.1 L1024.5,678.2" stroke="#111" stroke-width="1.7" fill="none" stroke-linecap="round" stroke-linejoin="round"/>
<text transform="translate(1022.4,680.0) rotate(90)" font-size="11.6" font-family="'Liberation Sans', sans-serif">OH</text>
<path d="M1061.1,570.4 L1079.3,570.4 L1088,585.7 L1079.3,600.6 L1061.1,600.6 L1052.9,585.7 Z M1063.5,573.7 L1077.4,573.7 M1056.5,585.7 L1063,597.8 M1084.2,585.7 L1077.9,597.8 M1079.3,600.6 L1088,615.5 L1097.6,615.5 M1088,615.5 L1079.6,630.6 L1085.5,641.5 M1086.5,651.5 L1079.3,660.9 M1061.1,660.9 L1079.3,660.9 L1088,676 L1079.3,691.2 L1061.1,691.2 L1052.9,676 Z M1063.5,664.1 L1077.4,664.1 M1056.5,676 L1063,688 M1084.2,676 L1077.9,688" stroke="#111" stroke-width="1.7" fill="none" stroke-linecap="round" stroke-linejoin="round"/>
<text x="1088.2" y="650.8" font-size="11.8" text-anchor="middle" font-family="'Liberation Sans', sans-serif">O</text>
<text transform="translate(1102.6,610.8) rotate(90)" font-size="11.6" font-family="'Liberation Sans', sans-serif">OH</text>
<defs>
<linearGradient id="pbg1" x1="0" y1="0" x2="0" y2="1"><stop offset="0" stop-color="#d8d8d8"/><stop offset="0.63" stop-color="#e2e2e2"/><stop offset="0.64" stop-color="#ececec"/><stop offset="1" stop-color="#f2f2f2"/></linearGradient>
<linearGradient id="pbg2" x1="0" y1="0" x2="0" y2="1"><stop offset="0" stop-color="#d6d6d6"/><stop offset="0.62" stop-color="#e0e0e0"/><stop offset="0.63" stop-color="#ebebeb"/><stop offset="1" stop-color="#f2f2f2"/></linearGradient>
<linearGradient id="pbg3" x1="0" y1="0" x2="0" y2="1"><stop offset="0" stop-color="#dadddc"/><stop offset="0.74" stop-color="#e4e7e6"/><stop offset="0.75" stop-color="#eff0f0"/><stop offset="1" stop-color="#f4f4f4"/></linearGradient>
<filter id="pblur" x="-5%" y="-5%" width="110%" height="110%"><feGaussianBlur stdDeviation="0.55"/></filter>
<clipPath id="cp1"><rect x="1121.1" y="696.4" width="72.6" height="103.3"/></clipPath>
<clipPath id="cp2"><rect x="1197.1" y="665.3" width="72.8" height="103.5"/></clipPath>
<clipPath id="cp3"><rect x="1273.1" y="637.1" width="72.6" height="103.2"/></clipPath>
<clipPath id="bi1"><path d="M1127,700 L1184,700 L1183,786 Q1156,796 1128,786 Z"/></clipPath>
<clipPath id="bi2"><path d="M1203,668 L1264,668 L1262,760 Q1233,770 1205,760 Z"/></clipPath>
</defs>
<g clip-path="url(#cp1)" filter="url(#pblur)">
<rect x="1121.1" y="696.4" width="72.6" height="103.3" fill="url(#pbg1)"/>
<path d="M1127,708 L1184,708 L1183,786 Q1156,796 1128,786 Z" fill="#dcdcda"/>
<g clip-path="url(#bi1)">
<path d="M1131,712 Q1150,702 1172,706 Q1180,712 1179,730 L1177,768 Q1160,782 1136,776 L1131,740 Z" fill="#5e4e30"/>
<g fill="none" stroke-linecap="round">
<path d="M1148.6,734.8 Q1152.9,747.2 1157.0,759.6" stroke="#6a5832" stroke-width="0.77" opacity="0.9"/><path d="M1164.3,753.1 Q1163.3,763.5 1157.6,773.9" stroke="#4a3c22" stroke-width="1.08" opacity="0.9"/><path d="M1162.2,736.8 Q1163.2,749.7 1160.2,762.5" stroke="#5a4a2a" stroke-width="1.16" opacity="0.9"/><path d="M1130.7,696.3 Q1135.5,710.5 1139.2,724.7" stroke="#b4a070" stroke-width="0.89" opacity="0.9"/><path d="M1142.1,717.4 Q1139.7,724.4 1139.9,731.3" stroke="#4a3c22" stroke-width="1.01" opacity="0.9"/><path d="M1173.7,762.0 Q1178.0,777.7 1182.1,793.4" stroke="#8c784a" stroke-width="1.28" opacity="0.9"/><path d="M1135.9,739.4 Q1136.1,747.4 1130.9,755.4" stroke="#7a683c" stroke-width="0.95" opacity="0.9"/><path d="M1175.1,689.7 Q1172.2,708.0 1166.8,726.4" stroke="#b4a070" stroke-width="0.94" opacity="0.9"/><path d="M1154.9,732.3 Q1150.3,747.6 1147.7,763.0" stroke="#8c784a" stroke-width="0.68" opacity="0.9"/><path d="M1179.3,751.3 Q1176.1,761.1 1173.4,770.8" stroke="#4a3c22" stroke-width="0.61" opacity="0.9"/><path d="M1157.6,742.5 Q1153.7,755.7 1151.2,769.0" stroke="#5a4a2a" stroke-width="0.98" opacity="0.9"/><path d="M1157.0,760.4 Q1147.3,777.3 1143.3,794.2" stroke="#7a683c" stroke-width="1.50" opacity="0.9"/><path d="M1139.5,763.3 Q1138.9,777.7 1141.8,792.2" stroke="#3a2e1c" stroke-width="1.49" opacity="0.9"/><path d="M1145.3,751.3 Q1142.1,762.1 1142.5,772.8" stroke="#4a3c22" stroke-width="0.67" opacity="0.9"/><path d="M1162.8,694.1 Q1161.2,709.1 1159.8,724.1" stroke="#5a4a2a" stroke-width="1.46" opacity="0.9"/><path d="M1160.6,759.9 Q1156.9,768.7 1156.3,777.4" stroke="#6a5832" stroke-width="1.34" opacity="0.9"/><path d="M1137.6,750.7 Q1141.4,759.8 1143.9,768.8" stroke="#a08c5c" stroke-width="1.39" opacity="0.9"/><path d="M1158.2,697.0 Q1150.7,715.3 1144.6,733.6" stroke="#6a5832" stroke-width="1.27" opacity="0.9"/><path d="M1151.5,757.6 Q1151.2,771.3 1151.3,785.1" stroke="#4a3c22" stroke-width="0.71" opacity="0.9"/><path d="M1165.2,741.9 Q1159.5,751.1 1158.9,760.4" stroke="#6a5832" stroke-width="1.27" opacity="0.9"/><path d="M1154.6,715.4 Q1148.8,725.4 1147.3,735.5" stroke="#5a4a2a" stroke-width="0.68" opacity="0.9"/><path d="M1150.3,717.6 Q1155.3,731.2 1155.2,744.7" stroke="#5a4a2a" stroke-width="1.13" opacity="0.9"/><path d="M1154.9,725.7 Q1155.2,733.0 1152.8,740.4" stroke="#4a3c22" stroke-width="1.03" opacity="0.9"/><path d="M1151.2,764.6 Q1148.1,778.0 1142.2,791.3" stroke="#3a2e1c" stroke-width="1.41" opacity="0.9"/><path d="M1160.7,752.5 Q1166.6,763.5 1168.0,774.5" stroke="#b4a070" stroke-width="1.41" opacity="0.9"/><path d="M1147.2,749.4 Q1148.3,763.3 1155.2,777.2" stroke="#a08c5c" stroke-width="0.94" opacity="0.9"/><path d="M1138.3,704.4 Q1134.7,714.3 1132.3,724.2" stroke="#a08c5c" stroke-width="1.26" opacity="0.9"/><path d="M1166.6,730.8 Q1165.9,748.7 1165.0,766.5" stroke="#4a3c22" stroke-width="1.07" opacity="0.9"/><path d="M1153.2,696.0 Q1147.0,714.1 1139.3,732.3" stroke="#4a3c22" stroke-width="1.05" opacity="0.9"/><path d="M1178.3,715.8 Q1175.9,725.9 1170.3,736.1" stroke="#6a5832" stroke-width="1.07" opacity="0.9"/><path d="M1147.8,763.0 Q1145.9,773.1 1147.7,783.3" stroke="#a08c5c" stroke-width="1.20" opacity="0.9"/><path d="M1146.1,746.9 Q1154.3,764.4 1157.6,781.9" stroke="#a08c5c" stroke-width="0.80" opacity="0.9"/><path d="M1143.8,698.9 Q1144.4,717.4 1139.5,735.9" stroke="#3a2e1c" stroke-width="1.24" opacity="0.9"/><path d="M1145.1,709.3 Q1144.0,719.8 1144.3,730.4" stroke="#6a5832" stroke-width="1.35" opacity="0.9"/><path d="M1153.0,737.4 Q1157.9,755.1 1158.9,772.7" stroke="#b4a070" stroke-width="0.89" opacity="0.9"/><path d="M1143.3,740.0 Q1146.5,750.5 1146.2,761.1" stroke="#8c784a" stroke-width="0.88" opacity="0.9"/><path d="M1133.1,710.2 Q1130.7,717.5 1132.6,724.8" stroke="#7a683c" stroke-width="0.81" opacity="0.9"/><path d="M1134.8,736.9 Q1135.3,752.0 1133.5,767.2" stroke="#8c784a" stroke-width="1.46" opacity="0.9"/><path d="M1142.9,734.3 Q1138.4,741.3 1139.4,748.2" stroke="#b4a070" stroke-width="1.08" opacity="0.9"/><path d="M1141.8,743.2 Q1144.2,762.5 1143.0,781.8" stroke="#5a4a2a" stroke-width="0.95" opacity="0.9"/><path d="M1168.3,698.6 Q1171.9,714.1 1179.0,729.6" stroke="#5a4a2a" stroke-width="1.01" opacity="0.9"/><path d="M1172.2,693.0 Q1173.7,708.5 1173.4,723.9" stroke="#8c784a" stroke-width="1.02" opacity="0.9"/><path d="M1137.7,743.7 Q1143.8,758.5 1145.1,773.4" stroke="#4a3c22" stroke-width="0.79" opacity="0.9"/><path d="M1176.6,759.1 Q1178.4,776.4 1177.6,793.7" stroke="#8c784a" stroke-width="0.84" opacity="0.9"/><path d="M1136.7,732.6 Q1132.6,743.3 1128.7,754.1" stroke="#a08c5c" stroke-width="1.29" opacity="0.9"/><path d="M1139.0,748.2 Q1134.4,764.6 1127.6,781.1" stroke="#5a4a2a" stroke-width="1.08" opacity="0.9"/><path d="M1167.1,723.6 Q1174.1,740.9 1181.1,758.3" stroke="#b4a070" stroke-width="1.45" opacity="0.9"/><path d="M1178.6,700.5 Q1176.0,714.0 1172.7,727.6" stroke="#7a683c" stroke-width="1.35" opacity="0.9"/><path d="M1136.4,734.2 Q1141.8,744.0 1142.7,753.8" stroke="#a08c5c" stroke-width="1.46" opacity="0.9"/><path d="M1163.9,715.8 Q1158.2,729.3 1156.2,742.9" stroke="#7a683c" stroke-width="1.12" opacity="0.9"/><path d="M1156.1,735.9 Q1156.1,743.2 1157.2,750.6" stroke="#3a2e1c" stroke-width="1.06" opacity="0.9"/><path d="M1169.0,731.4 Q1168.6,747.4 1168.7,763.4" stroke="#4a3c22" stroke-width="1.44" opacity="0.9"/><path d="M1175.1,753.9 Q1174.0,764.0 1173.6,774.2" stroke="#b4a070" stroke-width="0.71" opacity="0.9"/><path d="M1169.7,759.9 Q1166.7,771.0 1169.3,782.2" stroke="#6a5832" stroke-width="0.98" opacity="0.9"/><path d="M1141.3,750.2 Q1145.1,757.1 1146.6,764.1" stroke="#5a4a2a" stroke-width="0.80" opacity="0.9"/><path d="M1146.0,724.5 Q1147.6,732.9 1147.6,741.2" stroke="#4a3c22" stroke-width="1.37" opacity="0.9"/><path d="M1162.9,750.1 Q1165.7,757.1 1167.1,764.1" stroke="#a08c5c" stroke-width="1.34" opacity="0.9"/><path d="M1156.5,758.6 Q1157.4,768.5 1157.0,778.3" stroke="#6a5832" stroke-width="1.37" opacity="0.9"/><path d="M1168.2,707.0 Q1170.3,724.3 1174.6,741.5" stroke="#5a4a2a" stroke-width="0.88" opacity="0.9"/><path d="M1167.5,706.1 Q1172.2,723.3 1181.4,740.5" stroke="#5a4a2a" stroke-width="1.40" opacity="0.9"/><path d="M1137.0,715.9 Q1136.8,735.2 1135.1,754.4" stroke="#5a4a2a" stroke-width="0.78" opacity="0.9"/><path d="M1168.1,703.1 Q1168.8,714.7 1169.4,726.4" stroke="#8c784a" stroke-width="0.70" opacity="0.9"/><path d="M1165.5,733.8 Q1164.0,743.2 1168.2,752.6" stroke="#4a3c22" stroke-width="1.03" opacity="0.9"/><path d="M1163.0,738.3 Q1165.3,750.9 1171.1,763.6" stroke="#6a5832" stroke-width="0.77" opacity="0.9"/><path d="M1168.0,769.5 Q1171.7,777.3 1173.3,785.1" stroke="#3a2e1c" stroke-width="0.72" opacity="0.9"/><path d="M1136.6,702.3 Q1136.2,714.8 1134.5,727.3" stroke="#8c784a" stroke-width="0.99" opacity="0.9"/><path d="M1130.2,748.0 Q1131.8,757.1 1135.1,766.1" stroke="#b4a070" stroke-width="0.92" opacity="0.9"/><path d="M1179.7,733.9 Q1176.2,750.3 1169.1,766.8" stroke="#8c784a" stroke-width="1.40" opacity="0.9"/><path d="M1163.2,756.1 Q1167.3,768.3 1165.6,780.4" stroke="#6a5832" stroke-width="1.05" opacity="0.9"/><path d="M1163.8,710.2 Q1168.5,726.1 1174.2,741.9" stroke="#5a4a2a" stroke-width="1.33" opacity="0.9"/><path d="M1170.7,752.8 Q1174.6,769.6 1175.8,786.4" stroke="#5a4a2a" stroke-width="0.97" opacity="0.9"/><path d="M1135.4,724.8 Q1137.7,731.9 1135.1,739.1" stroke="#8c784a" stroke-width="1.49" opacity="0.9"/><path d="M1130.5,716.9 Q1134.7,727.1 1138.1,737.3" stroke="#6a5832" stroke-width="1.19" opacity="0.9"/><path d="M1150.8,721.0 Q1159.4,735.3 1162.3,749.5" stroke="#4a3c22" stroke-width="1.29" opacity="0.9"/><path d="M1131.2,740.9 Q1134.6,751.1 1134.9,761.2" stroke="#a08c5c" stroke-width="1.05" opacity="0.9"/><path d="M1163.8,698.4 Q1161.9,708.8 1159.9,719.2" stroke="#8c784a" stroke-width="1.10" opacity="0.9"/><path d="M1170.8,733.6 Q1177.5,747.8 1182.2,762.0" stroke="#4a3c22" stroke-width="1.09" opacity="0.9"/><path d="M1172.0,723.7 Q1176.2,735.0 1179.9,746.4" stroke="#5a4a2a" stroke-width="1.37" opacity="0.9"/><path d="M1159.5,727.4 Q1158.6,738.1 1159.4,748.8" stroke="#a08c5c" stroke-width="1.14" opacity="0.9"/><path d="M1144.6,743.2 Q1146.8,753.9 1145.6,764.5" stroke="#7a683c" stroke-width="0.62" opacity="0.9"/><path d="M1160.1,736.5 Q1160.4,752.3 1157.8,768.2" stroke="#3a2e1c" stroke-width="1.41" opacity="0.9"/><path d="M1131.6,769.7 Q1134.2,777.2 1137.0,784.7" stroke="#6a5832" stroke-width="0.99" opacity="0.9"/><path d="M1176.4,705.9 Q1179.5,725.1 1177.1,744.2" stroke="#b4a070" stroke-width="0.73" opacity="0.9"/><path d="M1147.5,745.8 Q1140.6,757.4 1139.1,769.1" stroke="#4a3c22" stroke-width="0.78" opacity="0.9"/><path d="M1157.0,701.0 Q1157.1,716.7 1155.6,732.4" stroke="#b4a070" stroke-width="1.14" opacity="0.9"/><path d="M1160.1,716.2 Q1164.8,733.5 1166.6,750.8" stroke="#5a4a2a" stroke-width="1.46" opacity="0.9"/><path d="M1137.9,699.6 Q1143.6,716.0 1148.1,732.4" stroke="#8c784a" stroke-width="0.85" opacity="0.9"/><path d="M1167.9,746.6 Q1163.8,756.9 1162.8,767.3" stroke="#6a5832" stroke-width="0.77" opacity="0.9"/><path d="M1174.9,764.9 Q1175.6,772.1 1179.2,779.3" stroke="#3a2e1c" stroke-width="0.61" opacity="0.9"/><path d="M1135.5,700.3 Q1131.2,710.7 1131.0,721.0" stroke="#4a3c22" stroke-width="1.42" opacity="0.9"/><path d="M1142.9,765.1 Q1144.3,776.7 1142.7,788.3" stroke="#8c784a" stroke-width="0.91" opacity="0.9"/><path d="M1175.6,696.4 Q1172.1,713.2 1165.5,730.0" stroke="#6a5832" stroke-width="1.00" opacity="0.9"/><path d="M1154.6,701.3 Q1151.5,718.5 1145.2,735.8" stroke="#8c784a" stroke-width="0.86" opacity="0.9"/><path d="M1168.3,706.4 Q1167.5,720.9 1171.7,735.3" stroke="#b4a070" stroke-width="1.39" opacity="0.9"/><path d="M1136.0,731.6 Q1132.9,747.5 1135.6,763.4" stroke="#7a683c" stroke-width="1.34" opacity="0.9"/>
<path d="M1136.6,783.8 Q1147.3,788.4 1155.6,793.0" stroke="#9a8a66" stroke-width="0.86" opacity="0.75"/><path d="M1135.9,768.3 Q1143.6,774.6 1153.5,780.9" stroke="#b8aa88" stroke-width="0.95" opacity="0.75"/><path d="M1142.7,780.2 Q1154.7,782.7 1163.1,785.2" stroke="#b8aa88" stroke-width="0.72" opacity="0.75"/><path d="M1135.5,770.7 Q1147.8,777.7 1156.2,784.7" stroke="#8a7a58" stroke-width="0.54" opacity="0.75"/><path d="M1121.1,779.1 Q1131.5,784.2 1141.4,789.3" stroke="#b8aa88" stroke-width="0.90" opacity="0.75"/><path d="M1165.4,774.6 Q1171.8,782.1 1181.6,789.7" stroke="#b8aa88" stroke-width="0.91" opacity="0.75"/><path d="M1128.9,771.7 Q1133.3,774.9 1137.1,778.1" stroke="#9a8a66" stroke-width="0.53" opacity="0.75"/><path d="M1163.5,765.6 Q1171.8,773.5 1178.4,781.4" stroke="#b8aa88" stroke-width="0.54" opacity="0.75"/><path d="M1131.1,782.6 Q1139.9,785.4 1143.8,788.3" stroke="#8a7a58" stroke-width="0.74" opacity="0.75"/><path d="M1138.3,773.5 Q1147.5,780.3 1156.9,787.0" stroke="#b8aa88" stroke-width="0.84" opacity="0.75"/><path d="M1146.5,780.4 Q1160.9,785.0 1169.4,789.5" stroke="#9a8a66" stroke-width="0.88" opacity="0.75"/><path d="M1143.5,768.8 Q1149.0,772.1 1152.8,775.3" stroke="#9a8a66" stroke-width="0.98" opacity="0.75"/><path d="M1149.3,782.2 Q1155.7,784.8 1165.2,787.4" stroke="#9a8a66" stroke-width="0.96" opacity="0.75"/><path d="M1131.5,780.5 Q1137.2,783.4 1145.4,786.3" stroke="#9a8a66" stroke-width="0.71" opacity="0.75"/><path d="M1175.7,769.4 Q1178.5,773.1 1185.1,776.7" stroke="#8a7a58" stroke-width="0.89" opacity="0.75"/><path d="M1122.3,774.8 Q1131.4,780.3 1144.2,785.8" stroke="#a89874" stroke-width="0.66" opacity="0.75"/><path d="M1140.8,778.7 Q1151.1,782.6 1156.6,786.4" stroke="#8a7a58" stroke-width="0.72" opacity="0.75"/><path d="M1141.2,786.2 Q1150.8,788.4 1160.7,790.6" stroke="#9a8a66" stroke-width="0.93" opacity="0.75"/><path d="M1140.7,784.7 Q1149.3,789.2 1161.2,793.7" stroke="#a89874" stroke-width="0.74" opacity="0.75"/><path d="M1124.9,786.6 Q1129.9,789.1 1140.3,791.5" stroke="#b8aa88" stroke-width="0.89" opacity="0.75"/><path d="M1166.2,784.9 Q1179.3,788.1 1189.9,791.2" stroke="#9a8a66" stroke-width="0.90" opacity="0.75"/><path d="M1156.0,769.6 Q1163.4,774.8 1167.0,780.1" stroke="#b8aa88" stroke-width="0.95" opacity="0.75"/>
</g></g>
<g fill="none" stroke-linecap="round">
<path d="M1134.0,707.8 Q1146.2,707.2 1155.2,706.5" stroke="#a89060" stroke-width="0.78" opacity="0.9"/><path d="M1127.4,712.4 Q1140.7,708.0 1152.7,703.6" stroke="#a89060" stroke-width="0.88" opacity="0.9"/><path d="M1151.8,709.8 Q1160.6,708.8 1165.1,707.8" stroke="#b8a070" stroke-width="0.99" opacity="0.9"/><path d="M1136.6,705.0 Q1150.3,707.7 1164.6,710.4" stroke="#a89060" stroke-width="1.09" opacity="0.9"/><path d="M1126.8,702.2 Q1140.7,703.5 1155.8,704.9" stroke="#8a7646" stroke-width="0.86" opacity="0.9"/><path d="M1152.9,710.7 Q1157.1,710.0 1166.0,709.2" stroke="#a89060" stroke-width="1.04" opacity="0.9"/><path d="M1141.9,710.3 Q1156.0,704.1 1165.7,697.8" stroke="#b8a070" stroke-width="0.92" opacity="0.9"/>
</g>
<path d="M1127.0,715.0 L1127.0,787.0 M1185.0,715.0 L1185.0,787.0" stroke="#f4f6f6" stroke-width="2.2" opacity="0.55" fill="none"/><path d="M1123.0,706.0 Q1127.0,710.0 1127.0,717.0 L1127.0,787.0 Q1128.0,795.0 1156.0,795.0 Q1184.0,795.0 1185.0,787.0 L1185.0,717.0 Q1185.0,710.0 1190.0,708.0" fill="none" stroke="#a9abab" stroke-width="1.1" opacity="0.9"/><path d="M1123.0,706.0 Q1156.0,703.0 1190.0,708.0" fill="none" stroke="#b8baba" stroke-width="1" opacity="0.9"/><path d="M1129.0,789.0 Q1156.0,796.0 1183.0,789.0" fill="none" stroke="#9a9c9c" stroke-width="1.2" opacity="0.8"/>
</g>
<g clip-path="url(#cp2)" filter="url(#pblur)">
<rect x="1197.1" y="665.3" width="72.8" height="103.5" fill="url(#pbg2)"/>
<path d="M1203,676 L1264,676 L1262,760 Q1233,770 1205,760 Z" fill="#dededc"/>
<g clip-path="url(#bi2)">
<path d="M1205,694 Q1233,684 1262,690 L1262,738 Q1233,744 1205,738 Z" fill="#7c5632"/>
<path d="M1205,736 Q1233,744 1262,736 L1262,762 Q1233,770 1205,762 Z" fill="#8c7662"/>
<g fill="none" stroke-linecap="round">
<path d="M1247.4,709.8 Q1248.1,712.8 1242.9,715.8" stroke="#b08050" stroke-width="0.61" opacity="0.9"/><path d="M1248.2,695.2 Q1251.5,699.9 1251.8,704.6" stroke="#a8784a" stroke-width="1.35" opacity="0.9"/><path d="M1257.8,722.7 Q1259.9,726.2 1259.1,729.8" stroke="#6a4020" stroke-width="0.76" opacity="0.9"/><path d="M1222.5,727.5 Q1223.4,735.4 1225.7,743.3" stroke="#8a5a30" stroke-width="0.96" opacity="0.9"/><path d="M1218.4,716.9 Q1211.0,719.8 1204.8,722.8" stroke="#6a4020" stroke-width="0.74" opacity="0.9"/><path d="M1256.4,717.2 Q1251.6,718.5 1247.6,719.7" stroke="#6a4020" stroke-width="1.39" opacity="0.9"/><path d="M1240.4,701.4 Q1250.0,706.4 1256.5,711.4" stroke="#6a4020" stroke-width="1.12" opacity="0.9"/><path d="M1254.1,703.4 Q1251.8,708.5 1248.2,713.6" stroke="#4e2e18" stroke-width="1.18" opacity="0.9"/><path d="M1230.6,721.0 Q1222.5,727.9 1216.4,734.8" stroke="#c49a68" stroke-width="0.61" opacity="0.9"/><path d="M1230.2,719.4 Q1223.6,721.2 1219.5,723.1" stroke="#c49a68" stroke-width="0.87" opacity="0.9"/><path d="M1216.4,719.4 Q1210.8,724.2 1206.9,729.1" stroke="#8a5a30" stroke-width="1.04" opacity="0.9"/><path d="M1227.4,689.0 Q1234.8,696.8 1239.7,704.6" stroke="#c49a68" stroke-width="1.40" opacity="0.9"/><path d="M1265.1,716.6 Q1255.9,717.2 1249.9,717.9" stroke="#b08050" stroke-width="0.67" opacity="0.9"/><path d="M1242.6,715.3 Q1240.0,723.5 1232.8,731.6" stroke="#8a5a30" stroke-width="0.81" opacity="0.9"/><path d="M1236.0,720.3 Q1231.2,725.0 1225.8,729.8" stroke="#c49a68" stroke-width="1.05" opacity="0.9"/><path d="M1211.8,733.4 Q1223.1,733.6 1229.3,733.9" stroke="#c49a68" stroke-width="0.72" opacity="0.9"/><path d="M1209.7,715.3 Q1204.3,722.9 1202.8,730.4" stroke="#8a5a30" stroke-width="1.26" opacity="0.9"/><path d="M1240.4,693.2 Q1237.7,693.7 1231.9,694.1" stroke="#5a3a1e" stroke-width="0.71" opacity="0.9"/><path d="M1250.0,726.5 Q1250.8,733.5 1255.3,740.5" stroke="#b08050" stroke-width="0.61" opacity="0.9"/><path d="M1234.2,690.3 Q1229.5,696.9 1229.3,703.4" stroke="#6a4020" stroke-width="0.87" opacity="0.9"/><path d="M1227.8,733.3 Q1217.3,734.7 1211.1,736.1" stroke="#5a3a1e" stroke-width="1.14" opacity="0.9"/><path d="M1259.3,713.0 Q1259.2,718.8 1258.2,724.7" stroke="#c49a68" stroke-width="1.33" opacity="0.9"/><path d="M1222.5,701.4 Q1230.3,703.5 1234.3,705.6" stroke="#b08050" stroke-width="1.15" opacity="0.9"/><path d="M1207.2,694.5 Q1214.9,695.5 1217.7,696.5" stroke="#c49a68" stroke-width="0.95" opacity="0.9"/><path d="M1217.6,685.6 Q1222.6,692.6 1229.7,699.7" stroke="#5a3a1e" stroke-width="0.90" opacity="0.9"/><path d="M1245.1,730.6 Q1249.4,732.4 1253.8,734.1" stroke="#b08050" stroke-width="0.96" opacity="0.9"/><path d="M1224.0,687.0 Q1228.8,692.5 1231.7,698.0" stroke="#6a4020" stroke-width="1.04" opacity="0.9"/><path d="M1249.6,732.2 Q1259.9,732.2 1265.8,732.2" stroke="#b08050" stroke-width="1.13" opacity="0.9"/><path d="M1235.5,723.4 Q1226.6,728.7 1222.9,733.9" stroke="#c49a68" stroke-width="0.70" opacity="0.9"/><path d="M1228.0,693.7 Q1233.0,696.2 1241.1,698.8" stroke="#a8784a" stroke-width="0.60" opacity="0.9"/><path d="M1231.5,703.8 Q1220.3,705.6 1213.4,707.4" stroke="#b08050" stroke-width="1.02" opacity="0.9"/><path d="M1247.6,696.0 Q1244.1,701.1 1240.5,706.2" stroke="#8a5a30" stroke-width="0.85" opacity="0.9"/><path d="M1257.7,732.5 Q1258.5,736.9 1257.0,741.3" stroke="#8a5a30" stroke-width="1.29" opacity="0.9"/><path d="M1200.8,701.2 Q1211.5,705.2 1217.6,709.1" stroke="#4e2e18" stroke-width="0.74" opacity="0.9"/><path d="M1259.0,695.7 Q1259.6,699.7 1262.5,703.7" stroke="#4e2e18" stroke-width="1.12" opacity="0.9"/><path d="M1254.8,731.6 Q1253.7,736.1 1247.1,740.7" stroke="#6a4020" stroke-width="0.87" opacity="0.9"/><path d="M1256.6,705.3 Q1247.0,709.9 1241.1,714.5" stroke="#4e2e18" stroke-width="1.17" opacity="0.9"/><path d="M1211.7,693.9 Q1216.1,701.3 1220.2,708.7" stroke="#8a5a30" stroke-width="1.24" opacity="0.9"/><path d="M1203.1,714.1 Q1211.0,714.8 1221.6,715.4" stroke="#6a4020" stroke-width="1.13" opacity="0.9"/><path d="M1235.1,694.0 Q1243.6,694.3 1247.3,694.6" stroke="#c49a68" stroke-width="0.66" opacity="0.9"/><path d="M1205.7,712.2 Q1205.1,718.2 1207.1,724.1" stroke="#c49a68" stroke-width="0.67" opacity="0.9"/><path d="M1251.9,696.5 Q1245.5,701.8 1243.2,707.1" stroke="#6a4020" stroke-width="1.23" opacity="0.9"/><path d="M1248.5,718.0 Q1255.4,719.9 1262.2,721.7" stroke="#4e2e18" stroke-width="1.34" opacity="0.9"/><path d="M1213.5,711.7 Q1213.1,716.7 1218.3,721.6" stroke="#5a3a1e" stroke-width="0.99" opacity="0.9"/><path d="M1218.0,720.7 Q1220.1,729.7 1226.1,738.7" stroke="#5a3a1e" stroke-width="1.36" opacity="0.9"/><path d="M1247.3,693.5 Q1247.4,697.9 1250.4,702.3" stroke="#a8784a" stroke-width="1.04" opacity="0.9"/><path d="M1250.1,719.7 Q1245.4,724.6 1240.7,729.6" stroke="#b08050" stroke-width="1.06" opacity="0.9"/><path d="M1203.6,713.2 Q1206.9,718.6 1212.3,724.1" stroke="#b08050" stroke-width="1.30" opacity="0.9"/><path d="M1234.1,715.5 Q1241.2,719.2 1244.8,722.9" stroke="#5a3a1e" stroke-width="0.81" opacity="0.9"/><path d="M1208.5,726.9 Q1210.7,733.6 1211.5,740.2" stroke="#b08050" stroke-width="1.18" opacity="0.9"/><path d="M1203.9,703.3 Q1207.6,710.4 1214.0,717.6" stroke="#5a3a1e" stroke-width="1.02" opacity="0.9"/><path d="M1234.8,692.0 Q1238.4,694.2 1241.9,696.5" stroke="#8a5a30" stroke-width="0.80" opacity="0.9"/><path d="M1243.0,713.4 Q1240.5,718.6 1241.5,723.8" stroke="#a8784a" stroke-width="0.89" opacity="0.9"/><path d="M1259.7,683.7 Q1259.1,692.0 1259.1,700.3" stroke="#6a4020" stroke-width="0.72" opacity="0.9"/><path d="M1253.7,685.6 Q1247.3,691.9 1240.3,698.2" stroke="#6a4020" stroke-width="0.67" opacity="0.9"/><path d="M1224.2,734.2 Q1233.4,734.9 1239.7,735.6" stroke="#5a3a1e" stroke-width="1.21" opacity="0.9"/><path d="M1217.9,697.5 Q1217.0,702.2 1219.4,706.8" stroke="#a8784a" stroke-width="0.67" opacity="0.9"/><path d="M1218.6,734.3 Q1223.9,735.4 1227.4,736.5" stroke="#6a4020" stroke-width="0.92" opacity="0.9"/><path d="M1204.0,699.1 Q1207.3,706.5 1214.4,713.9" stroke="#c49a68" stroke-width="1.34" opacity="0.9"/><path d="M1257.7,731.4 Q1252.4,734.9 1248.9,738.4" stroke="#4e2e18" stroke-width="0.77" opacity="0.9"/><path d="M1220.0,714.2 Q1217.7,716.4 1212.2,718.6" stroke="#6a4020" stroke-width="1.08" opacity="0.9"/><path d="M1230.3,709.6 Q1231.3,713.5 1233.6,717.5" stroke="#a8784a" stroke-width="0.76" opacity="0.9"/><path d="M1212.1,718.7 Q1211.5,723.2 1207.9,727.7" stroke="#4e2e18" stroke-width="1.02" opacity="0.9"/><path d="M1232.1,713.2 Q1232.1,717.2 1236.2,721.3" stroke="#4e2e18" stroke-width="0.89" opacity="0.9"/><path d="M1251.5,701.9 Q1256.4,707.3 1263.5,712.7" stroke="#4e2e18" stroke-width="0.62" opacity="0.9"/><path d="M1222.2,692.1 Q1228.2,694.0 1232.1,695.9" stroke="#b08050" stroke-width="1.30" opacity="0.9"/><path d="M1222.8,714.9 Q1219.8,719.2 1222.5,723.5" stroke="#c49a68" stroke-width="1.08" opacity="0.9"/><path d="M1222.6,706.4 Q1222.1,710.4 1223.7,714.3" stroke="#5a3a1e" stroke-width="1.04" opacity="0.9"/><path d="M1222.6,704.8 Q1230.3,708.1 1239.1,711.3" stroke="#c49a68" stroke-width="1.17" opacity="0.9"/><path d="M1231.1,728.3 Q1225.1,731.6 1223.4,734.9" stroke="#8a5a30" stroke-width="1.09" opacity="0.9"/><path d="M1252.8,722.8 Q1251.4,725.9 1252.5,728.9" stroke="#b08050" stroke-width="1.38" opacity="0.9"/><path d="M1249.0,729.2 Q1244.5,734.1 1236.8,739.0" stroke="#5a3a1e" stroke-width="0.70" opacity="0.9"/><path d="M1232.5,721.3 Q1223.9,727.6 1220.7,733.9" stroke="#4e2e18" stroke-width="0.91" opacity="0.9"/><path d="M1227.1,700.8 Q1225.3,705.8 1227.0,710.7" stroke="#6a4020" stroke-width="1.34" opacity="0.9"/><path d="M1244.1,701.6 Q1247.8,706.8 1252.4,712.1" stroke="#5a3a1e" stroke-width="0.87" opacity="0.9"/><path d="M1210.2,712.4 Q1216.7,718.0 1218.4,723.5" stroke="#5a3a1e" stroke-width="1.33" opacity="0.9"/><path d="M1207.9,732.3 Q1213.1,733.7 1217.3,735.0" stroke="#a8784a" stroke-width="1.00" opacity="0.9"/><path d="M1234.0,703.4 Q1231.0,705.6 1229.6,707.9" stroke="#8a5a30" stroke-width="0.86" opacity="0.9"/><path d="M1215.3,726.5 Q1225.1,729.1 1229.4,731.7" stroke="#a8784a" stroke-width="1.09" opacity="0.9"/><path d="M1217.7,716.1 Q1226.2,717.7 1234.2,719.2" stroke="#5a3a1e" stroke-width="0.64" opacity="0.9"/><path d="M1245.8,691.7 Q1242.2,693.1 1233.6,694.4" stroke="#a8784a" stroke-width="0.91" opacity="0.9"/><path d="M1208.0,691.4 Q1205.2,696.5 1208.2,701.7" stroke="#8a5a30" stroke-width="0.98" opacity="0.9"/><path d="M1242.4,699.7 Q1239.6,702.9 1236.2,706.2" stroke="#c49a68" stroke-width="0.60" opacity="0.9"/><path d="M1227.8,693.9 Q1229.6,701.5 1227.5,709.0" stroke="#c49a68" stroke-width="0.66" opacity="0.9"/><path d="M1250.7,720.3 Q1253.5,723.2 1258.5,726.1" stroke="#4e2e18" stroke-width="1.31" opacity="0.9"/><path d="M1240.0,715.3 Q1244.4,723.4 1250.8,731.5" stroke="#b08050" stroke-width="0.73" opacity="0.9"/><path d="M1247.5,723.9 Q1244.1,728.6 1240.3,733.3" stroke="#8a5a30" stroke-width="1.20" opacity="0.9"/><path d="M1221.3,698.3 Q1221.3,702.0 1216.8,705.6" stroke="#c49a68" stroke-width="1.19" opacity="0.9"/><path d="M1255.6,727.4 Q1262.0,729.3 1265.2,731.1" stroke="#b08050" stroke-width="0.96" opacity="0.9"/><path d="M1224.1,694.1 Q1231.8,697.8 1240.7,701.5" stroke="#4e2e18" stroke-width="0.88" opacity="0.9"/><path d="M1251.9,718.0 Q1245.6,723.3 1241.5,728.6" stroke="#8a5a30" stroke-width="1.17" opacity="0.9"/><path d="M1216.6,722.3 Q1225.2,726.4 1232.1,730.6" stroke="#c49a68" stroke-width="1.39" opacity="0.9"/><path d="M1215.6,722.4 Q1213.9,725.5 1210.2,728.6" stroke="#6a4020" stroke-width="0.90" opacity="0.9"/><path d="M1225.8,698.6 Q1216.5,698.9 1211.6,699.2" stroke="#b08050" stroke-width="1.38" opacity="0.9"/><path d="M1241.5,704.8 Q1241.1,710.1 1246.1,715.4" stroke="#5a3a1e" stroke-width="1.39" opacity="0.9"/><path d="M1250.2,695.0 Q1247.0,695.7 1240.3,696.3" stroke="#5a3a1e" stroke-width="1.03" opacity="0.9"/><path d="M1220.5,728.9 Q1227.1,733.4 1236.0,737.9" stroke="#6a4020" stroke-width="0.90" opacity="0.9"/><path d="M1253.6,725.8 Q1247.9,730.3 1246.4,734.7" stroke="#c49a68" stroke-width="0.93" opacity="0.9"/><path d="M1241.6,719.3 Q1235.8,722.4 1233.8,725.5" stroke="#b08050" stroke-width="0.72" opacity="0.9"/><path d="M1216.4,730.3 Q1214.2,734.8 1207.4,739.4" stroke="#4e2e18" stroke-width="0.72" opacity="0.9"/><path d="M1224.6,712.9 Q1220.8,717.3 1217.1,721.7" stroke="#8a5a30" stroke-width="0.78" opacity="0.9"/><path d="M1229.5,701.9 Q1223.6,702.5 1222.7,703.0" stroke="#b08050" stroke-width="0.85" opacity="0.9"/><path d="M1211.6,713.2 Q1213.2,713.2 1220.5,713.2" stroke="#b08050" stroke-width="0.93" opacity="0.9"/><path d="M1224.5,712.4 Q1226.1,716.9 1226.1,721.3" stroke="#c49a68" stroke-width="1.13" opacity="0.9"/><path d="M1212.2,731.0 Q1223.9,735.1 1230.3,739.2" stroke="#a8784a" stroke-width="1.06" opacity="0.9"/><path d="M1201.9,730.0 Q1207.7,731.1 1215.3,732.3" stroke="#5a3a1e" stroke-width="0.66" opacity="0.9"/><path d="M1247.3,701.8 Q1246.6,704.9 1247.6,708.0" stroke="#6a4020" stroke-width="0.65" opacity="0.9"/><path d="M1255.0,696.1 Q1250.0,702.7 1241.4,709.3" stroke="#a8784a" stroke-width="0.92" opacity="0.9"/><path d="M1247.8,726.7 Q1252.8,726.8 1255.2,727.0" stroke="#a8784a" stroke-width="0.92" opacity="0.9"/><path d="M1226.8,733.1 Q1221.1,733.7 1212.8,734.2" stroke="#6a4020" stroke-width="0.86" opacity="0.9"/><path d="M1226.5,703.1 Q1232.5,703.3 1241.2,703.5" stroke="#a8784a" stroke-width="0.88" opacity="0.9"/><path d="M1260.9,703.9 Q1253.1,705.4 1250.7,707.0" stroke="#5a3a1e" stroke-width="0.74" opacity="0.9"/><path d="M1217.5,701.3 Q1212.3,704.6 1208.9,707.9" stroke="#6a4020" stroke-width="0.71" opacity="0.9"/><path d="M1229.6,684.6 Q1231.7,690.5 1229.7,696.3" stroke="#8a5a30" stroke-width="1.36" opacity="0.9"/><path d="M1250.8,689.2 Q1250.8,691.0 1244.9,692.8" stroke="#c49a68" stroke-width="0.69" opacity="0.9"/><path d="M1234.2,732.5 Q1231.5,736.2 1225.1,739.9" stroke="#5a3a1e" stroke-width="1.31" opacity="0.9"/><path d="M1201.0,706.5 Q1212.8,708.7 1218.7,711.0" stroke="#b08050" stroke-width="0.89" opacity="0.9"/><path d="M1217.0,713.5 Q1213.2,720.5 1211.3,727.4" stroke="#6a4020" stroke-width="1.09" opacity="0.9"/><path d="M1232.5,714.8 Q1231.6,724.3 1227.9,733.8" stroke="#4e2e18" stroke-width="0.70" opacity="0.9"/><path d="M1247.8,702.1 Q1247.5,710.9 1246.0,719.7" stroke="#c49a68" stroke-width="0.78" opacity="0.9"/><path d="M1244.9,714.0 Q1234.8,714.7 1230.1,715.5" stroke="#a8784a" stroke-width="0.83" opacity="0.9"/><path d="M1208.4,700.3 Q1207.9,705.6 1209.6,710.8" stroke="#8a5a30" stroke-width="1.19" opacity="0.9"/><path d="M1249.3,728.8 Q1248.9,737.5 1243.8,746.1" stroke="#6a4020" stroke-width="1.20" opacity="0.9"/><path d="M1203.8,697.0 Q1213.9,699.0 1220.4,701.0" stroke="#6a4020" stroke-width="1.26" opacity="0.9"/><path d="M1243.0,735.9 Q1234.2,737.7 1225.2,739.5" stroke="#5a3a1e" stroke-width="0.87" opacity="0.9"/><path d="M1231.2,699.7 Q1226.0,700.0 1219.2,700.2" stroke="#a8784a" stroke-width="0.82" opacity="0.9"/><path d="M1205.0,712.6 Q1210.0,716.6 1215.1,720.6" stroke="#6a4020" stroke-width="0.66" opacity="0.9"/><path d="M1205.6,731.5 Q1207.1,731.8 1212.5,732.1" stroke="#6a4020" stroke-width="1.25" opacity="0.9"/><path d="M1219.9,733.9 Q1222.4,734.6 1228.8,735.2" stroke="#8a5a30" stroke-width="0.69" opacity="0.9"/><path d="M1224.0,722.1 Q1228.3,730.8 1230.7,739.5" stroke="#4e2e18" stroke-width="0.67" opacity="0.9"/>
<path d="M1226.5,745.0 Q1234.9,746.2 1244.0,747.4" stroke="#b8a090" stroke-width="0.90" opacity="0.85"/><path d="M1210.6,741.2 Q1205.1,746.8 1203.1,752.5" stroke="#a89080" stroke-width="0.89" opacity="0.85"/><path d="M1223.1,754.6 Q1215.2,757.9 1212.0,761.3" stroke="#6a5444" stroke-width="0.58" opacity="0.85"/><path d="M1259.6,750.1 Q1259.2,753.9 1255.9,757.6" stroke="#6a5444" stroke-width="0.91" opacity="0.85"/><path d="M1226.9,742.3 Q1225.1,746.1 1224.7,749.8" stroke="#7a6250" stroke-width="0.66" opacity="0.85"/><path d="M1243.1,743.7 Q1240.9,745.3 1236.3,746.8" stroke="#6a5444" stroke-width="0.71" opacity="0.85"/><path d="M1224.1,746.6 Q1216.4,753.1 1213.8,759.5" stroke="#a89080" stroke-width="1.07" opacity="0.85"/><path d="M1242.0,739.7 Q1241.3,743.9 1241.4,748.0" stroke="#5a4434" stroke-width="0.86" opacity="0.85"/><path d="M1213.1,744.5 Q1210.7,748.9 1205.9,753.3" stroke="#a89080" stroke-width="0.68" opacity="0.85"/><path d="M1244.0,740.7 Q1241.6,744.4 1241.9,748.0" stroke="#a89080" stroke-width="0.73" opacity="0.85"/><path d="M1208.9,758.5 Q1214.0,760.9 1214.3,763.3" stroke="#7a6250" stroke-width="0.56" opacity="0.85"/><path d="M1213.7,740.7 Q1213.8,747.5 1208.0,754.2" stroke="#7a6250" stroke-width="0.92" opacity="0.85"/><path d="M1248.9,757.3 Q1250.7,760.7 1252.8,764.1" stroke="#6a5444" stroke-width="0.72" opacity="0.85"/><path d="M1220.5,747.1 Q1222.8,755.4 1226.3,763.8" stroke="#6a5444" stroke-width="1.10" opacity="0.85"/><path d="M1246.3,747.6 Q1252.5,754.9 1256.9,762.2" stroke="#6a5444" stroke-width="1.10" opacity="0.85"/><path d="M1249.1,755.7 Q1247.3,762.2 1249.8,768.7" stroke="#5a4434" stroke-width="0.72" opacity="0.85"/><path d="M1231.6,756.2 Q1229.4,757.3 1223.8,758.3" stroke="#7a6250" stroke-width="0.92" opacity="0.85"/><path d="M1250.0,754.7 Q1253.8,755.2 1261.7,755.8" stroke="#6a5444" stroke-width="0.76" opacity="0.85"/><path d="M1219.2,743.4 Q1226.6,747.5 1233.6,751.7" stroke="#6a5444" stroke-width="0.71" opacity="0.85"/><path d="M1231.6,737.9 Q1232.8,740.9 1239.1,743.8" stroke="#b8a090" stroke-width="0.84" opacity="0.85"/><path d="M1218.9,750.4 Q1217.6,755.2 1219.2,760.1" stroke="#a89080" stroke-width="0.97" opacity="0.85"/><path d="M1233.2,735.8 Q1226.6,739.4 1224.3,743.0" stroke="#b8a090" stroke-width="0.56" opacity="0.85"/><path d="M1255.4,755.2 Q1254.9,759.1 1255.5,762.9" stroke="#b8a090" stroke-width="0.81" opacity="0.85"/><path d="M1234.2,759.8 Q1241.5,760.5 1245.1,761.1" stroke="#6a5444" stroke-width="0.64" opacity="0.85"/><path d="M1213.8,752.8 Q1209.7,757.2 1210.2,761.6" stroke="#b8a090" stroke-width="0.52" opacity="0.85"/><path d="M1219.0,755.8 Q1221.3,763.1 1226.1,770.4" stroke="#6a5444" stroke-width="0.73" opacity="0.85"/><path d="M1215.2,747.1 Q1220.8,752.0 1220.4,756.8" stroke="#5a4434" stroke-width="0.62" opacity="0.85"/><path d="M1228.3,741.1 Q1235.6,741.6 1245.4,742.1" stroke="#6a5444" stroke-width="0.74" opacity="0.85"/><path d="M1248.9,739.6 Q1247.6,744.7 1244.4,749.8" stroke="#5a4434" stroke-width="0.73" opacity="0.85"/><path d="M1227.8,735.9 Q1224.6,741.0 1220.9,746.2" stroke="#8a7260" stroke-width="0.82" opacity="0.85"/><path d="M1233.0,742.2 Q1230.7,743.8 1223.0,745.4" stroke="#a89080" stroke-width="0.72" opacity="0.85"/><path d="M1231.1,747.8 Q1231.6,751.7 1238.1,755.6" stroke="#b8a090" stroke-width="1.08" opacity="0.85"/><path d="M1241.3,757.0 Q1236.9,763.0 1235.9,769.0" stroke="#a89080" stroke-width="1.00" opacity="0.85"/><path d="M1251.1,737.4 Q1245.5,739.5 1244.8,741.5" stroke="#a89080" stroke-width="0.53" opacity="0.85"/><path d="M1215.4,741.7 Q1218.6,745.0 1224.3,748.3" stroke="#a89080" stroke-width="0.74" opacity="0.85"/><path d="M1235.4,739.8 Q1241.3,740.2 1251.4,740.6" stroke="#a89080" stroke-width="0.52" opacity="0.85"/><path d="M1220.3,738.4 Q1215.3,745.4 1208.9,752.4" stroke="#5a4434" stroke-width="0.53" opacity="0.85"/><path d="M1235.0,759.3 Q1236.8,762.1 1237.7,765.0" stroke="#7a6250" stroke-width="0.95" opacity="0.85"/><path d="M1208.1,750.3 Q1203.8,757.2 1204.5,764.0" stroke="#6a5444" stroke-width="0.60" opacity="0.85"/><path d="M1238.6,736.8 Q1246.1,741.6 1248.8,746.5" stroke="#6a5444" stroke-width="0.77" opacity="0.85"/><path d="M1240.9,759.0 Q1247.2,759.7 1251.1,760.4" stroke="#b8a090" stroke-width="0.93" opacity="0.85"/><path d="M1226.1,752.7 Q1226.8,756.0 1229.5,759.2" stroke="#8a7260" stroke-width="0.56" opacity="0.85"/><path d="M1217.8,760.5 Q1213.3,762.6 1209.6,764.8" stroke="#5a4434" stroke-width="0.52" opacity="0.85"/><path d="M1221.0,754.2 Q1226.8,755.5 1232.6,756.9" stroke="#7a6250" stroke-width="0.98" opacity="0.85"/><path d="M1225.6,748.9 Q1231.6,752.3 1239.4,755.6" stroke="#a89080" stroke-width="0.62" opacity="0.85"/><path d="M1213.3,741.2 Q1215.5,747.1 1216.7,753.0" stroke="#5a4434" stroke-width="0.77" opacity="0.85"/><path d="M1237.9,754.8 Q1232.6,758.0 1225.0,761.3" stroke="#5a4434" stroke-width="0.70" opacity="0.85"/><path d="M1214.6,740.0 Q1220.7,744.8 1223.1,749.6" stroke="#a89080" stroke-width="1.05" opacity="0.85"/><path d="M1226.6,739.1 Q1222.9,744.3 1213.4,749.6" stroke="#6a5444" stroke-width="0.84" opacity="0.85"/><path d="M1256.2,745.5 Q1254.9,749.9 1255.8,754.2" stroke="#b8a090" stroke-width="0.56" opacity="0.85"/><path d="M1248.9,733.7 Q1252.5,738.9 1256.4,744.1" stroke="#b8a090" stroke-width="0.79" opacity="0.85"/><path d="M1232.7,758.9 Q1228.9,763.2 1228.5,767.6" stroke="#8a7260" stroke-width="0.97" opacity="0.85"/><path d="M1215.7,748.4 Q1219.4,751.9 1218.2,755.4" stroke="#8a7260" stroke-width="0.85" opacity="0.85"/><path d="M1260.4,748.0 Q1257.5,755.9 1253.2,763.8" stroke="#7a6250" stroke-width="0.98" opacity="0.85"/><path d="M1256.5,761.8 Q1250.2,763.5 1246.8,765.3" stroke="#8a7260" stroke-width="0.82" opacity="0.85"/><path d="M1227.5,742.2 Q1223.9,744.6 1216.7,746.9" stroke="#a89080" stroke-width="0.52" opacity="0.85"/><path d="M1260.6,734.5 Q1258.5,742.0 1255.2,749.4" stroke="#b8a090" stroke-width="1.01" opacity="0.85"/><path d="M1235.2,750.2 Q1234.5,757.1 1236.7,764.0" stroke="#b8a090" stroke-width="0.97" opacity="0.85"/><path d="M1212.2,755.3 Q1210.1,762.4 1205.8,769.4" stroke="#8a7260" stroke-width="0.79" opacity="0.85"/><path d="M1223.0,739.4 Q1223.4,743.6 1227.0,747.8" stroke="#7a6250" stroke-width="0.71" opacity="0.85"/><path d="M1251.4,739.6 Q1255.3,740.9 1265.1,742.2" stroke="#6a5444" stroke-width="0.68" opacity="0.85"/><path d="M1261.6,760.0 Q1254.7,763.0 1253.1,766.0" stroke="#a89080" stroke-width="1.02" opacity="0.85"/><path d="M1249.0,739.2 Q1245.5,739.8 1236.3,740.4" stroke="#7a6250" stroke-width="1.08" opacity="0.85"/><path d="M1258.0,745.2 Q1255.7,752.1 1255.2,759.0" stroke="#6a5444" stroke-width="0.82" opacity="0.85"/><path d="M1230.1,738.7 Q1234.6,743.1 1236.7,747.5" stroke="#5a4434" stroke-width="0.62" opacity="0.85"/><path d="M1204.3,761.3 Q1205.9,762.4 1211.0,763.5" stroke="#a89080" stroke-width="0.65" opacity="0.85"/><path d="M1219.9,733.8 Q1223.6,741.9 1222.1,750.1" stroke="#8a7260" stroke-width="1.02" opacity="0.85"/><path d="M1205.1,743.9 Q1206.0,750.7 1209.1,757.6" stroke="#b8a090" stroke-width="1.04" opacity="0.85"/><path d="M1222.8,754.0 Q1217.5,758.0 1207.9,762.0" stroke="#6a5444" stroke-width="0.57" opacity="0.85"/><path d="M1266.6,737.8 Q1260.7,738.6 1250.7,739.4" stroke="#7a6250" stroke-width="0.86" opacity="0.85"/><path d="M1253.2,754.1 Q1250.2,755.4 1243.1,756.8" stroke="#8a7260" stroke-width="1.09" opacity="0.85"/><path d="M1229.9,744.0 Q1228.9,746.7 1227.0,749.5" stroke="#8a7260" stroke-width="0.66" opacity="0.85"/><path d="M1231.9,741.8 Q1234.4,746.7 1237.9,751.6" stroke="#8a7260" stroke-width="1.06" opacity="0.85"/><path d="M1217.7,739.2 Q1218.1,743.5 1216.4,747.8" stroke="#a89080" stroke-width="0.61" opacity="0.85"/><path d="M1238.1,747.2 Q1238.0,753.5 1241.1,759.7" stroke="#6a5444" stroke-width="0.61" opacity="0.85"/><path d="M1218.0,741.2 Q1220.1,746.6 1227.2,751.9" stroke="#8a7260" stroke-width="0.82" opacity="0.85"/><path d="M1252.2,740.9 Q1247.1,744.4 1243.7,747.8" stroke="#8a7260" stroke-width="0.72" opacity="0.85"/><path d="M1257.4,760.2 Q1255.1,763.8 1254.8,767.3" stroke="#7a6250" stroke-width="0.97" opacity="0.85"/><path d="M1253.5,742.7 Q1252.3,747.9 1245.4,753.0" stroke="#7a6250" stroke-width="0.54" opacity="0.85"/><path d="M1264.8,738.5 Q1254.0,739.4 1247.5,740.3" stroke="#5a4434" stroke-width="1.05" opacity="0.85"/>
</g></g>
<g fill="none" stroke-linecap="round">
<path d="M1217.2,686.5 Q1217.7,692.7 1222.5,698.8" stroke="#a06a38" stroke-width="0.77" opacity="0.9"/><path d="M1250.1,682.9 Q1250.9,686.5 1247.0,690.2" stroke="#6a3c1a" stroke-width="1.04" opacity="0.9"/><path d="M1245.1,689.0 Q1242.7,693.4 1244.7,697.9" stroke="#8a5428" stroke-width="1.16" opacity="0.9"/><path d="M1250.7,688.2 Q1249.9,693.8 1252.9,699.4" stroke="#8a5428" stroke-width="0.85" opacity="0.9"/><path d="M1215.7,683.5 Q1213.4,688.8 1216.1,694.1" stroke="#6a3c1a" stroke-width="0.83" opacity="0.9"/><path d="M1238.9,676.7 Q1239.3,683.2 1243.9,689.6" stroke="#6a3c1a" stroke-width="0.95" opacity="0.9"/><path d="M1227.0,683.2 Q1226.5,689.3 1224.8,695.3" stroke="#6a3c1a" stroke-width="0.93" opacity="0.9"/><path d="M1252.4,681.6 Q1252.2,688.1 1248.8,694.6" stroke="#6a3c1a" stroke-width="0.71" opacity="0.9"/><path d="M1230.3,680.0 Q1232.0,683.6 1228.2,687.1" stroke="#6a3c1a" stroke-width="1.11" opacity="0.9"/><path d="M1209.0,682.7 Q1209.3,687.7 1213.3,692.7" stroke="#8a5428" stroke-width="0.93" opacity="0.9"/><path d="M1212.3,682.6 Q1211.9,686.3 1209.2,690.1" stroke="#6a3c1a" stroke-width="0.98" opacity="0.9"/><path d="M1223.1,687.7 Q1221.5,691.2 1221.0,694.6" stroke="#6a3c1a" stroke-width="0.99" opacity="0.9"/><path d="M1236.9,681.5 Q1236.7,688.1 1235.0,694.6" stroke="#8a5428" stroke-width="1.04" opacity="0.9"/><path d="M1252.9,685.0 Q1255.4,690.2 1252.6,695.5" stroke="#a06a38" stroke-width="1.08" opacity="0.9"/>
</g>
<path d="M1203.0,683.0 L1203.0,758.0 M1263.0,683.0 L1263.0,758.0" stroke="#f4f6f6" stroke-width="2.2" opacity="0.55" fill="none"/><path d="M1199.0,674.0 Q1203.0,678.0 1203.0,685.0 L1203.0,758.0 Q1204.0,766.0 1233.0,766.0 Q1262.0,766.0 1263.0,758.0 L1263.0,685.0 Q1263.0,678.0 1268.0,676.0" fill="none" stroke="#a9abab" stroke-width="1.1" opacity="0.9"/><path d="M1199.0,674.0 Q1233.0,671.0 1268.0,676.0" fill="none" stroke="#b8baba" stroke-width="1" opacity="0.9"/><path d="M1205.0,760.0 Q1233.0,767.0 1261.0,760.0" fill="none" stroke="#9a9c9c" stroke-width="1.2" opacity="0.8"/>
</g>
<g clip-path="url(#cp3)" filter="url(#pblur)">
<rect x="1273.1" y="637.1" width="72.6" height="103.2" fill="url(#pbg3)"/>
<path d="M1279,651 L1340,651 L1338,730 Q1309,740 1282,730 Z" fill="#e3e8e7"/>
<path d="M1320,638 L1328,638 L1331,662 L1323,664 Z" fill="#f0f2f6"/>
<path d="M1286,704 L1298,668 L1322,690 L1336,722 L1322,734 L1290,732 Z" fill="#f3f5f7"/>
<path d="M1300,668 L1318,658 L1332,672 L1328,706 L1310,712 L1296,692 Z" fill="#c3d3ce"/>
<path d="M1296,692 L1310,712 L1300,722 L1288,706 Z" fill="#eef1f3"/>
<path d="M1330,676 L1337,690 L1333,720 L1326,710 Z" fill="#f6f7f9"/>
<path d="M1317,694 L1311,710" stroke="#6a7cb8" stroke-width="1.6" fill="none"/>
<path d="M1296,724 Q1308,732 1322,729" stroke="#7d88b8" stroke-width="2" fill="none"/>
<path d="M1288,718 L1298,726" stroke="#a8b0d0" stroke-width="1.2" fill="none"/>
<path d="M1279.0,658.0 L1279.0,727.0 M1339.0,658.0 L1339.0,727.0" stroke="#f4f6f6" stroke-width="2.2" opacity="0.55" fill="none"/><path d="M1275.0,649.0 Q1279.0,653.0 1279.0,660.0 L1279.0,727.0 Q1280.0,735.0 1309.0,735.0 Q1338.0,735.0 1339.0,727.0 L1339.0,660.0 Q1339.0,653.0 1344.0,651.0" fill="none" stroke="#a9abab" stroke-width="1.1" opacity="0.9"/><path d="M1275.0,649.0 Q1309.0,646.0 1344.0,651.0" fill="none" stroke="#b8baba" stroke-width="1" opacity="0.9"/><path d="M1281.0,729.0 Q1309.0,736.0 1337.0,729.0" fill="none" stroke="#9a9c9c" stroke-width="1.2" opacity="0.8"/>
</g>
<path d="M1338,795 L1345.5,795 L1345.5,820 L1338,820" fill="none" stroke="#ff2020" stroke-width="1.1" stroke-dasharray="3 1.5"/>
<path d="M1338,820.5 L1344,820.5" stroke="#ff2020" stroke-width="1.6"/>
<path d="M1339.5,797 L1342,801 M1340.5,812 L1342.5,816 M1339,825 L1345,825" stroke="#70f0f0" stroke-width="1.2" fill="none"/>
<circle cx="1339.8" cy="806.5" r="1.1" fill="#f0f000"/><circle cx="1342" cy="805.5" r="1.1" fill="#2020ff"/>
</svg></body></html>
